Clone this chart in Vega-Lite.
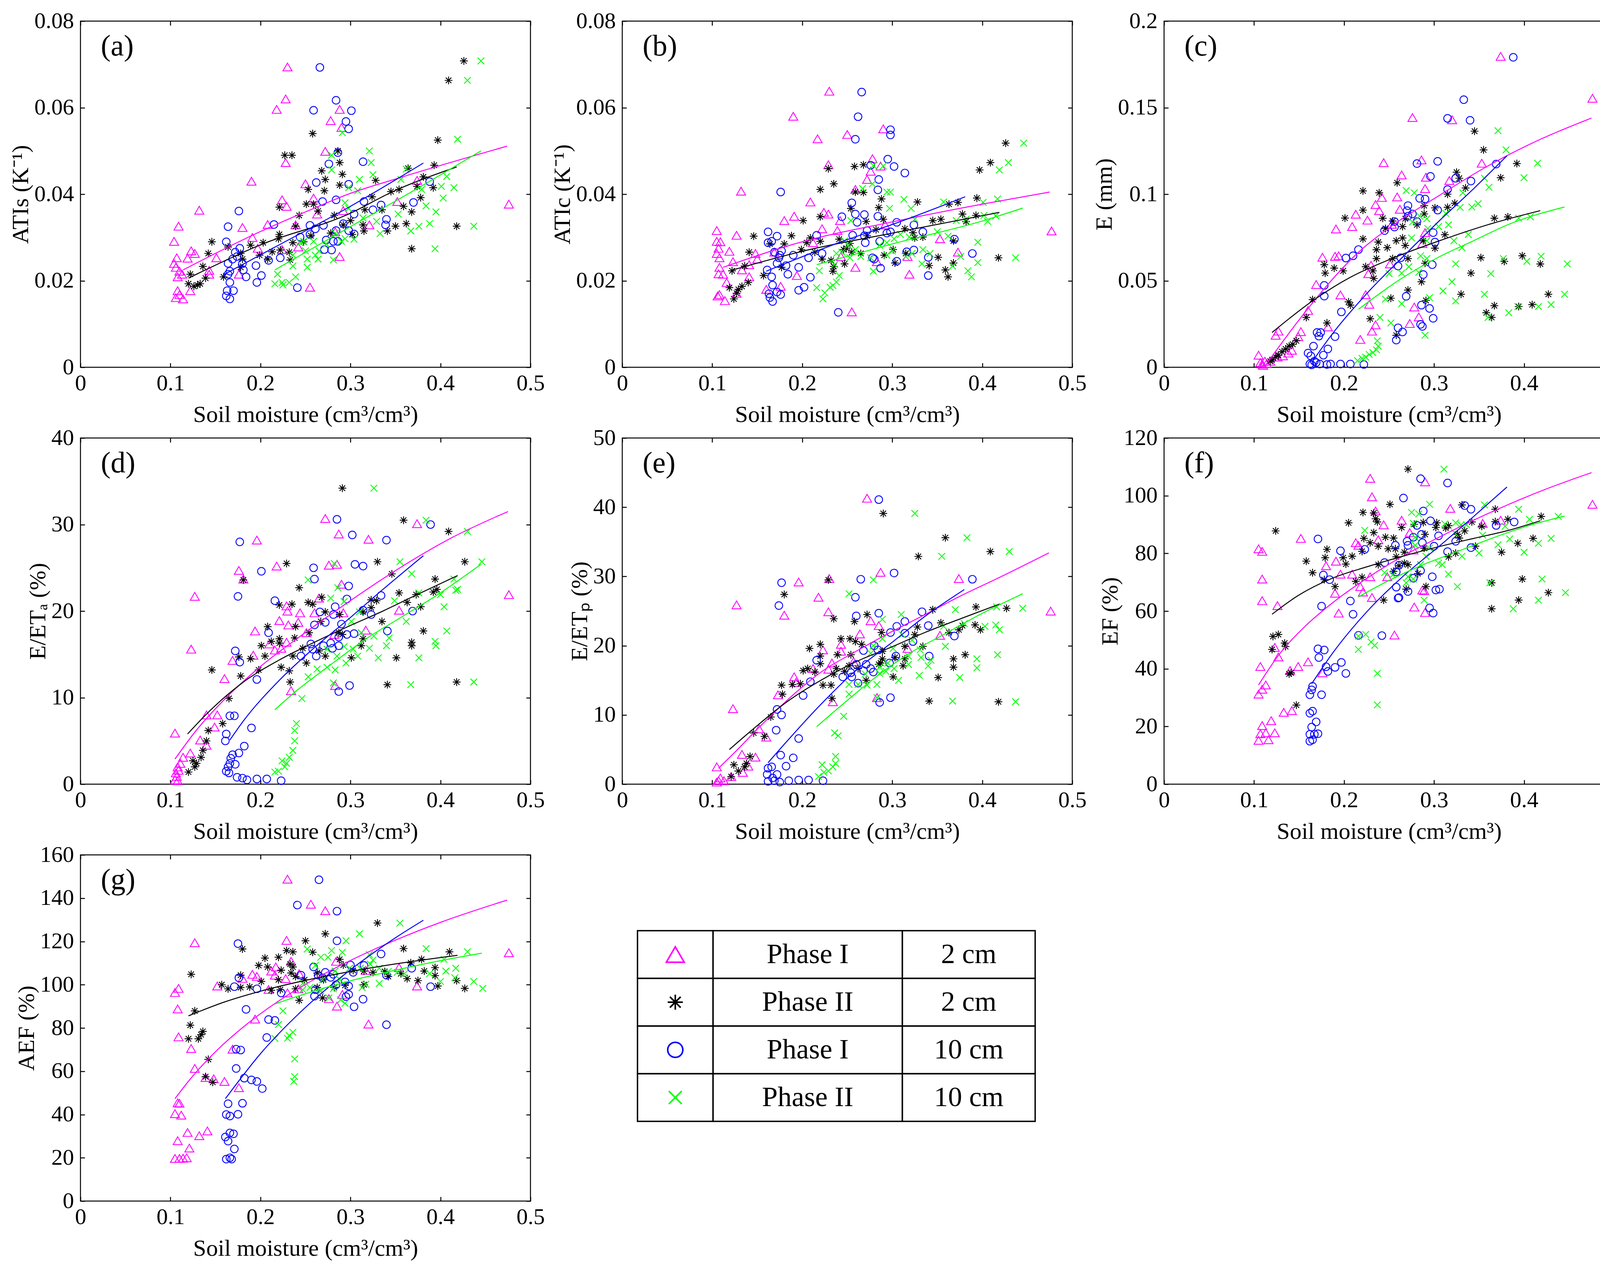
{
"$schema":"https://vega.github.io/schema/vega-lite/v6.json",
"background":"white",
"padding":{"left":22,"top":23,"right":28,"bottom":40},
"config":{
 "font":"Liberation Serif",
 "view":{"stroke":"black","strokeWidth":2.5},
 "range":{"category":["#0000ff","#00ff00","#000000","#ff00ff"],"symbol":["circle","M-1,-1L1,1M-1,1L1,-1","M-1,0L1,0M0,-1L0,1M-0.71,-0.71L0.71,0.71M-0.71,0.71L0.71,-0.71","triangle-up"]},
 "axis":{"grid":false,"domain":false,"tickColor":"black","tickWidth":2.5,"tickSize":-11,"labelColor":"black","labelFont":"Liberation Serif","labelFontSize":58,"titleFont":"Liberation Serif","titleFontSize":60,"titleFontWeight":"normal","titleColor":"black","labelFlush":false,"labelOverlap":false,"labelBound":false},
 "axisX":{"labelPadding":23,"titlePadding":22},
 "axisY":{"labelPadding":28,"titlePadding":3},
 "legend":{"disable":true},
 "title":{"font":"Liberation Serif","fontSize":76,"fontWeight":"normal","anchor":"start","frame":"group","color":"black","baseline":"middle","offset":-69,"dx":52,"dy":64}
},
"datasets":{
"a":[
{"s":"m","x":0.23,"y":0.0694},{"s":"m","x":0.228,"y":0.062},{"s":"m","x":0.218,"y":0.0596},{"s":"m","x":0.288,"y":0.0596},{"s":"m","x":0.278,"y":0.057},{"s":"m","x":0.29,"y":0.0554},{"s":"m","x":0.272,"y":0.0499},{"s":"m","x":0.228,"y":0.0473},{"s":"m","x":0.19,"y":0.043},{"s":"m","x":0.132,"y":0.0363},{"s":"m","x":0.109,"y":0.0326},{"s":"m","x":0.104,"y":0.0291},{"s":"m","x":0.25,"y":0.0424},{"s":"m","x":0.224,"y":0.0387},{"s":"m","x":0.229,"y":0.0372},{"s":"m","x":0.259,"y":0.0391},{"s":"m","x":0.352,"y":0.0383},{"s":"m","x":0.374,"y":0.0432},{"s":"m","x":0.476,"y":0.0377},{"s":"m","x":0.18,"y":0.0323},{"s":"m","x":0.208,"y":0.033},{"s":"m","x":0.239,"y":0.0329},{"s":"m","x":0.263,"y":0.0354},{"s":"m","x":0.292,"y":0.0362},{"s":"m","x":0.191,"y":0.03},{"s":"m","x":0.197,"y":0.0275},{"s":"m","x":0.123,"y":0.0269},{"s":"m","x":0.127,"y":0.0263},{"s":"m","x":0.119,"y":0.0252},{"s":"m","x":0.107,"y":0.0253},{"s":"m","x":0.104,"y":0.024},{"s":"m","x":0.106,"y":0.0231},{"s":"m","x":0.11,"y":0.0222},{"s":"m","x":0.113,"y":0.0215},{"s":"m","x":0.108,"y":0.0209},{"s":"m","x":0.143,"y":0.0215},{"s":"m","x":0.151,"y":0.0253},{"s":"m","x":0.143,"y":0.0224},{"s":"m","x":0.122,"y":0.0177},{"s":"m","x":0.108,"y":0.0177},{"s":"m","x":0.11,"y":0.0168},{"s":"m","x":0.106,"y":0.0161},{"s":"m","x":0.114,"y":0.0158},{"s":"m","x":0.176,"y":0.0215},{"s":"m","x":0.255,"y":0.0185},{"s":"m","x":0.321,"y":0.0329},{"s":"m","x":0.283,"y":0.0313},{"s":"m","x":0.288,"y":0.0256},{"s":"m","x":0.242,"y":0.0278},{"s":"m","x":0.224,"y":0.0272},
{"s":"k","x":0.426,"y":0.0708},{"s":"k","x":0.409,"y":0.0663},{"s":"k","x":0.397,"y":0.0525},{"s":"k","x":0.258,"y":0.054},{"s":"k","x":0.227,"y":0.049},{"s":"k","x":0.235,"y":0.049},{"s":"k","x":0.286,"y":0.05},{"s":"k","x":0.288,"y":0.0473},{"s":"k","x":0.268,"y":0.0454},{"s":"k","x":0.291,"y":0.0446},{"s":"k","x":0.272,"y":0.0434},{"s":"k","x":0.271,"y":0.0408},{"s":"k","x":0.288,"y":0.0421},{"s":"k","x":0.253,"y":0.0411},{"s":"k","x":0.328,"y":0.0432},{"s":"k","x":0.324,"y":0.0394},{"s":"k","x":0.345,"y":0.0406},{"s":"k","x":0.354,"y":0.0411},{"s":"k","x":0.364,"y":0.046},{"s":"k","x":0.381,"y":0.044},{"s":"k","x":0.393,"y":0.0467},{"s":"k","x":0.392,"y":0.0415},{"s":"k","x":0.374,"y":0.0418},{"s":"k","x":0.378,"y":0.0392},{"s":"k","x":0.359,"y":0.0372},{"s":"k","x":0.368,"y":0.0359},{"s":"k","x":0.362,"y":0.0332},{"s":"k","x":0.35,"y":0.0326},{"s":"k","x":0.341,"y":0.0315},{"s":"k","x":0.418,"y":0.0326},{"s":"k","x":0.368,"y":0.0274},{"s":"k","x":0.335,"y":0.0364},{"s":"k","x":0.316,"y":0.0364},{"s":"k","x":0.314,"y":0.0329},{"s":"k","x":0.315,"y":0.0315},{"s":"k","x":0.302,"y":0.0307},{"s":"k","x":0.3,"y":0.0339},{"s":"k","x":0.292,"y":0.0329},{"s":"k","x":0.282,"y":0.0351},{"s":"k","x":0.264,"y":0.0361},{"s":"k","x":0.259,"y":0.0377},{"s":"k","x":0.251,"y":0.0377},{"s":"k","x":0.243,"y":0.0351},{"s":"k","x":0.239,"y":0.0326},{"s":"k","x":0.221,"y":0.037},{"s":"k","x":0.221,"y":0.0307},{"s":"k","x":0.22,"y":0.0297},{"s":"k","x":0.222,"y":0.0271},{"s":"k","x":0.232,"y":0.0266},{"s":"k","x":0.233,"y":0.0248},{"s":"k","x":0.213,"y":0.0267},{"s":"k","x":0.208,"y":0.025},{"s":"k","x":0.203,"y":0.0288},{"s":"k","x":0.199,"y":0.0259},{"s":"k","x":0.189,"y":0.0282},{"s":"k","x":0.178,"y":0.0263},{"s":"k","x":0.18,"y":0.025},{"s":"k","x":0.178,"y":0.0231},{"s":"k","x":0.164,"y":0.0278},{"s":"k","x":0.159,"y":0.0209},{"s":"k","x":0.146,"y":0.029},{"s":"k","x":0.142,"y":0.0263},{"s":"k","x":0.136,"y":0.0233},{"s":"k","x":0.139,"y":0.0206},{"s":"k","x":0.122,"y":0.0215},{"s":"k","x":0.12,"y":0.0193},{"s":"k","x":0.126,"y":0.0187},{"s":"k","x":0.13,"y":0.019},{"s":"k","x":0.133,"y":0.0193},{"s":"k","x":0.236,"y":0.0288},{"s":"k","x":0.248,"y":0.029},{"s":"k","x":0.256,"y":0.0304},{"s":"k","x":0.278,"y":0.031},
{"s":"b","x":0.266,"y":0.0693},{"s":"b","x":0.284,"y":0.0617},{"s":"b","x":0.259,"y":0.0594},{"s":"b","x":0.301,"y":0.0593},{"s":"b","x":0.295,"y":0.0568},{"s":"b","x":0.298,"y":0.0551},{"s":"b","x":0.286,"y":0.0496},{"s":"b","x":0.276,"y":0.047},{"s":"b","x":0.314,"y":0.0475},{"s":"b","x":0.262,"y":0.0427},{"s":"b","x":0.298,"y":0.0423},{"s":"b","x":0.388,"y":0.0429},{"s":"b","x":0.269,"y":0.0383},{"s":"b","x":0.284,"y":0.0387},{"s":"b","x":0.315,"y":0.0383},{"s":"b","x":0.334,"y":0.0375},{"s":"b","x":0.37,"y":0.0381},{"s":"b","x":0.325,"y":0.0364},{"s":"b","x":0.304,"y":0.0354},{"s":"b","x":0.34,"y":0.0342},{"s":"b","x":0.339,"y":0.0329},{"s":"b","x":0.176,"y":0.0361},{"s":"b","x":0.164,"y":0.0325},{"s":"b","x":0.162,"y":0.029},{"s":"b","x":0.215,"y":0.033},{"s":"b","x":0.255,"y":0.0328},{"s":"b","x":0.27,"y":0.0328},{"s":"b","x":0.261,"y":0.032},{"s":"b","x":0.244,"y":0.0301},{"s":"b","x":0.255,"y":0.0307},{"s":"b","x":0.284,"y":0.0316},{"s":"b","x":0.292,"y":0.0332},{"s":"b","x":0.298,"y":0.0316},{"s":"b","x":0.304,"y":0.0308},{"s":"b","x":0.286,"y":0.0291},{"s":"b","x":0.281,"y":0.0291},{"s":"b","x":0.271,"y":0.0272},{"s":"b","x":0.279,"y":0.0271},{"s":"b","x":0.273,"y":0.0294},{"s":"b","x":0.177,"y":0.0275},{"s":"b","x":0.172,"y":0.0266},{"s":"b","x":0.174,"y":0.0256},{"s":"b","x":0.169,"y":0.025},{"s":"b","x":0.18,"y":0.024},{"s":"b","x":0.181,"y":0.0225},{"s":"b","x":0.184,"y":0.0209},{"s":"b","x":0.195,"y":0.0235},{"s":"b","x":0.201,"y":0.0212},{"s":"b","x":0.196,"y":0.0196},{"s":"b","x":0.209,"y":0.0247},{"s":"b","x":0.222,"y":0.0253},{"s":"b","x":0.166,"y":0.0222},{"s":"b","x":0.164,"y":0.0215},{"s":"b","x":0.166,"y":0.0196},{"s":"b","x":0.163,"y":0.0177},{"s":"b","x":0.17,"y":0.0177},{"s":"b","x":0.162,"y":0.0165},{"s":"b","x":0.166,"y":0.0158},{"s":"b","x":0.241,"y":0.0184},{"s":"b","x":0.164,"y":0.024},
{"s":"g","x":0.445,"y":0.0708},{"s":"g","x":0.43,"y":0.0663},{"s":"g","x":0.419,"y":0.0527},{"s":"g","x":0.321,"y":0.05},{"s":"g","x":0.323,"y":0.0473},{"s":"g","x":0.291,"y":0.0542},{"s":"g","x":0.279,"y":0.049},{"s":"g","x":0.279,"y":0.0456},{"s":"g","x":0.31,"y":0.0434},{"s":"g","x":0.325,"y":0.0445},{"s":"g","x":0.308,"y":0.0408},{"s":"g","x":0.298,"y":0.0415},{"s":"g","x":0.356,"y":0.0434},{"s":"g","x":0.362,"y":0.0458},{"s":"g","x":0.379,"y":0.0411},{"s":"g","x":0.407,"y":0.0441},{"s":"g","x":0.401,"y":0.0418},{"s":"g","x":0.415,"y":0.0415},{"s":"g","x":0.403,"y":0.0391},{"s":"g","x":0.384,"y":0.0373},{"s":"g","x":0.395,"y":0.0359},{"s":"g","x":0.353,"y":0.0354},{"s":"g","x":0.367,"y":0.0315},{"s":"g","x":0.376,"y":0.0326},{"s":"g","x":0.388,"y":0.0332},{"s":"g","x":0.437,"y":0.0326},{"s":"g","x":0.394,"y":0.0274},{"s":"g","x":0.333,"y":0.0309},{"s":"g","x":0.329,"y":0.0337},{"s":"g","x":0.314,"y":0.0345},{"s":"g","x":0.298,"y":0.0367},{"s":"g","x":0.294,"y":0.038},{"s":"g","x":0.304,"y":0.0296},{"s":"g","x":0.294,"y":0.0297},{"s":"g","x":0.29,"y":0.0291},{"s":"g","x":0.283,"y":0.031},{"s":"g","x":0.273,"y":0.0285},{"s":"g","x":0.265,"y":0.0269},{"s":"g","x":0.261,"y":0.0259},{"s":"g","x":0.264,"y":0.025},{"s":"g","x":0.281,"y":0.0248},{"s":"g","x":0.252,"y":0.025},{"s":"g","x":0.252,"y":0.0231},{"s":"g","x":0.25,"y":0.0269},{"s":"g","x":0.244,"y":0.0288},{"s":"g","x":0.236,"y":0.0259},{"s":"g","x":0.236,"y":0.0234},{"s":"g","x":0.239,"y":0.0209},{"s":"g","x":0.232,"y":0.0196},{"s":"g","x":0.225,"y":0.019},{"s":"g","x":0.224,"y":0.0196},{"s":"g","x":0.219,"y":0.0215},{"s":"g","x":0.216,"y":0.0193},{"s":"g","x":0.248,"y":0.0291},{"s":"g","x":0.259,"y":0.0291}
],
"fa":[
{"s":"m","x":0.114,"y":0.0225},{"s":"m","x":0.19,"y":0.0304},{"s":"m","x":0.259,"y":0.0367},{"s":"m","x":0.3,"y":0.0402},{"s":"m","x":0.35,"y":0.0435},{"s":"m","x":0.474,"y":0.0511},
{"s":"k","x":0.12,"y":0.0206},{"s":"k","x":0.2,"y":0.0283},{"s":"k","x":0.3,"y":0.0356},{"s":"k","x":0.345,"y":0.0404},{"s":"k","x":0.418,"y":0.0463},
{"s":"b","x":0.16,"y":0.0215},{"s":"b","x":0.22,"y":0.0282},{"s":"b","x":0.3,"y":0.0372},{"s":"b","x":0.381,"y":0.0472},
{"s":"g","x":0.216,"y":0.0225},{"s":"g","x":0.3,"y":0.0325},{"s":"g","x":0.38,"y":0.042},{"s":"g","x":0.445,"y":0.05}
],
"b":[
{"s":"m","x":0.23,"y":0.0638},{"s":"m","x":0.19,"y":0.058},{"s":"m","x":0.29,"y":0.0551},{"s":"m","x":0.25,"y":0.0538},{"s":"m","x":0.217,"y":0.0528},{"s":"m","x":0.229,"y":0.0468},{"s":"m","x":0.278,"y":0.0482},{"s":"m","x":0.276,"y":0.0453},{"s":"m","x":0.272,"y":0.0434},{"s":"m","x":0.287,"y":0.0465},{"s":"m","x":0.132,"y":0.0407},{"s":"m","x":0.209,"y":0.0382},{"s":"m","x":0.259,"y":0.0411},{"s":"m","x":0.191,"y":0.0349},{"s":"m","x":0.18,"y":0.0339},{"s":"m","x":0.229,"y":0.0354},{"s":"m","x":0.224,"y":0.0358},{"s":"m","x":0.242,"y":0.0339},{"s":"m","x":0.222,"y":0.032},{"s":"m","x":0.239,"y":0.0316},{"s":"m","x":0.477,"y":0.0315},{"s":"m","x":0.292,"y":0.0329},{"s":"m","x":0.105,"y":0.0316},{"s":"m","x":0.127,"y":0.0305},{"s":"m","x":0.105,"y":0.0291},{"s":"m","x":0.109,"y":0.029},{"s":"m","x":0.107,"y":0.0275},{"s":"m","x":0.119,"y":0.0268},{"s":"m","x":0.105,"y":0.0263},{"s":"m","x":0.108,"y":0.0253},{"s":"m","x":0.123,"y":0.0244},{"s":"m","x":0.148,"y":0.0263},{"s":"m","x":0.15,"y":0.025},{"s":"m","x":0.141,"y":0.0237},{"s":"m","x":0.133,"y":0.0225},{"s":"m","x":0.108,"y":0.0231},{"s":"m","x":0.112,"y":0.0215},{"s":"m","x":0.107,"y":0.0216},{"s":"m","x":0.116,"y":0.0196},{"s":"m","x":0.141,"y":0.0209},{"s":"m","x":0.127,"y":0.0171},{"s":"m","x":0.108,"y":0.0168},{"s":"m","x":0.106,"y":0.0165},{"s":"m","x":0.114,"y":0.0154},{"s":"m","x":0.16,"y":0.018},{"s":"m","x":0.176,"y":0.0187},{"s":"m","x":0.194,"y":0.0212},{"s":"m","x":0.255,"y":0.0128},{"s":"m","x":0.259,"y":0.0231},{"s":"m","x":0.319,"y":0.0215},{"s":"m","x":0.373,"y":0.0266},{"s":"m","x":0.353,"y":0.0297},{"s":"m","x":0.317,"y":0.0256},{"s":"m","x":0.283,"y":0.0244},{"s":"m","x":0.212,"y":0.0288},{"s":"m","x":0.243,"y":0.0256},{"s":"m","x":0.169,"y":0.0266},
{"s":"k","x":0.426,"y":0.0518},{"s":"k","x":0.409,"y":0.0473},{"s":"k","x":0.397,"y":0.0456},{"s":"k","x":0.229,"y":0.0459},{"s":"k","x":0.258,"y":0.0464},{"s":"k","x":0.268,"y":0.0468},{"s":"k","x":0.235,"y":0.0424},{"s":"k","x":0.22,"y":0.0411},{"s":"k","x":0.259,"y":0.0405},{"s":"k","x":0.268,"y":0.0404},{"s":"k","x":0.288,"y":0.0389},{"s":"k","x":0.328,"y":0.0382},{"s":"k","x":0.394,"y":0.0391},{"s":"k","x":0.373,"y":0.0381},{"s":"k","x":0.363,"y":0.0377},{"s":"k","x":0.285,"y":0.0369},{"s":"k","x":0.254,"y":0.0367},{"s":"k","x":0.22,"y":0.0348},{"s":"k","x":0.29,"y":0.0342},{"s":"k","x":0.201,"y":0.0339},{"s":"k","x":0.271,"y":0.0337},{"s":"k","x":0.378,"y":0.0354},{"s":"k","x":0.393,"y":0.0351},{"s":"k","x":0.382,"y":0.0337},{"s":"k","x":0.345,"y":0.0339},{"s":"k","x":0.354,"y":0.0342},{"s":"k","x":0.314,"y":0.032},{"s":"k","x":0.323,"y":0.0311},{"s":"k","x":0.334,"y":0.0301},{"s":"k","x":0.325,"y":0.0299},{"s":"k","x":0.368,"y":0.0292},{"s":"k","x":0.146,"y":0.0303},{"s":"k","x":0.188,"y":0.0304},{"s":"k","x":0.209,"y":0.0299},{"s":"k","x":0.22,"y":0.0291},{"s":"k","x":0.205,"y":0.0288},{"s":"k","x":0.164,"y":0.0285},{"s":"k","x":0.18,"y":0.0285},{"s":"k","x":0.241,"y":0.0296},{"s":"k","x":0.253,"y":0.0286},{"s":"k","x":0.272,"y":0.0304},{"s":"k","x":0.282,"y":0.0318},{"s":"k","x":0.249,"y":0.0275},{"s":"k","x":0.246,"y":0.0272},{"s":"k","x":0.199,"y":0.0272},{"s":"k","x":0.214,"y":0.0266},{"s":"k","x":0.255,"y":0.0266},{"s":"k","x":0.265,"y":0.0263},{"s":"k","x":0.301,"y":0.0272},{"s":"k","x":0.291,"y":0.0259},{"s":"k","x":0.315,"y":0.0263},{"s":"k","x":0.351,"y":0.0254},{"s":"k","x":0.222,"y":0.025},{"s":"k","x":0.232,"y":0.0247},{"s":"k","x":0.247,"y":0.0239},{"s":"k","x":0.303,"y":0.0241},{"s":"k","x":0.418,"y":0.0253},{"s":"k","x":0.341,"y":0.0235},{"s":"k","x":0.368,"y":0.0241},{"s":"k","x":0.359,"y":0.0225},{"s":"k","x":0.362,"y":0.0209},{"s":"k","x":0.234,"y":0.0222},{"s":"k","x":0.235,"y":0.0233},{"s":"k","x":0.177,"y":0.0231},{"s":"k","x":0.157,"y":0.0212},{"s":"k","x":0.141,"y":0.0266},{"s":"k","x":0.136,"y":0.0234},{"s":"k","x":0.122,"y":0.0223},{"s":"k","x":0.14,"y":0.0196},{"s":"k","x":0.133,"y":0.0187},{"s":"k","x":0.129,"y":0.018},{"s":"k","x":0.119,"y":0.0184},{"s":"k","x":0.127,"y":0.0171},{"s":"k","x":0.124,"y":0.0158},
{"s":"b","x":0.266,"y":0.0636},{"s":"b","x":0.262,"y":0.0579},{"s":"b","x":0.259,"y":0.0527},{"s":"b","x":0.298,"y":0.0549},{"s":"b","x":0.298,"y":0.0537},{"s":"b","x":0.295,"y":0.0481},{"s":"b","x":0.302,"y":0.0464},{"s":"b","x":0.314,"y":0.0449},{"s":"b","x":0.276,"y":0.0467},{"s":"b","x":0.285,"y":0.0434},{"s":"b","x":0.284,"y":0.041},{"s":"b","x":0.176,"y":0.0405},{"s":"b","x":0.255,"y":0.038},{"s":"b","x":0.259,"y":0.0354},{"s":"b","x":0.269,"y":0.0353},{"s":"b","x":0.244,"y":0.0348},{"s":"b","x":0.284,"y":0.0349},{"s":"b","x":0.305,"y":0.0335},{"s":"b","x":0.261,"y":0.0335},{"s":"b","x":0.324,"y":0.0329},{"s":"b","x":0.334,"y":0.0313},{"s":"b","x":0.369,"y":0.0296},{"s":"b","x":0.294,"y":0.031},{"s":"b","x":0.298,"y":0.0313},{"s":"b","x":0.272,"y":0.0316},{"s":"b","x":0.269,"y":0.0304},{"s":"b","x":0.256,"y":0.0305},{"s":"b","x":0.27,"y":0.0288},{"s":"b","x":0.286,"y":0.0291},{"s":"b","x":0.324,"y":0.0271},{"s":"b","x":0.316,"y":0.0267},{"s":"b","x":0.34,"y":0.0254},{"s":"b","x":0.389,"y":0.0263},{"s":"b","x":0.278,"y":0.0253},{"s":"b","x":0.28,"y":0.025},{"s":"b","x":0.287,"y":0.0229},{"s":"b","x":0.305,"y":0.0245},{"s":"b","x":0.34,"y":0.0212},{"s":"b","x":0.24,"y":0.0127},{"s":"b","x":0.162,"y":0.0313},{"s":"b","x":0.172,"y":0.0303},{"s":"b","x":0.162,"y":0.0288},{"s":"b","x":0.166,"y":0.0291},{"s":"b","x":0.216,"y":0.0305},{"s":"b","x":0.19,"y":0.0259},{"s":"b","x":0.207,"y":0.0253},{"s":"b","x":0.222,"y":0.0263},{"s":"b","x":0.169,"y":0.0266},{"s":"b","x":0.177,"y":0.0269},{"s":"b","x":0.175,"y":0.0259},{"s":"b","x":0.174,"y":0.0253},{"s":"b","x":0.172,"y":0.024},{"s":"b","x":0.182,"y":0.0235},{"s":"b","x":0.161,"y":0.0225},{"s":"b","x":0.184,"y":0.0215},{"s":"b","x":0.196,"y":0.0231},{"s":"b","x":0.209,"y":0.0208},{"s":"b","x":0.166,"y":0.0209},{"s":"b","x":0.167,"y":0.019},{"s":"b","x":0.202,"y":0.0185},{"s":"b","x":0.196,"y":0.0178},{"s":"b","x":0.172,"y":0.0174},{"s":"b","x":0.163,"y":0.017},{"s":"b","x":0.176,"y":0.0168},{"s":"b","x":0.164,"y":0.0161},{"s":"b","x":0.167,"y":0.0152},
{"s":"g","x":0.446,"y":0.0518},{"s":"g","x":0.429,"y":0.0473},{"s":"g","x":0.419,"y":0.0456},{"s":"g","x":0.279,"y":0.0466},{"s":"g","x":0.29,"y":0.0465},{"s":"g","x":0.278,"y":0.0424},{"s":"g","x":0.267,"y":0.0413},{"s":"g","x":0.294,"y":0.0405},{"s":"g","x":0.298,"y":0.0405},{"s":"g","x":0.297,"y":0.0367},{"s":"g","x":0.313,"y":0.0388},{"s":"g","x":0.321,"y":0.0367},{"s":"g","x":0.357,"y":0.0382},{"s":"g","x":0.401,"y":0.0381},{"s":"g","x":0.417,"y":0.0389},{"s":"g","x":0.402,"y":0.0351},{"s":"g","x":0.406,"y":0.0337},{"s":"g","x":0.415,"y":0.035},{"s":"g","x":0.371,"y":0.0339},{"s":"g","x":0.382,"y":0.0342},{"s":"g","x":0.395,"y":0.0289},{"s":"g","x":0.362,"y":0.0303},{"s":"g","x":0.35,"y":0.0313},{"s":"g","x":0.325,"y":0.0342},{"s":"g","x":0.319,"y":0.0301},{"s":"g","x":0.309,"y":0.0307},{"s":"g","x":0.302,"y":0.0297},{"s":"g","x":0.294,"y":0.0288},{"s":"g","x":0.286,"y":0.0282},{"s":"g","x":0.334,"y":0.0272},{"s":"g","x":0.342,"y":0.0263},{"s":"g","x":0.322,"y":0.0263},{"s":"g","x":0.315,"y":0.0256},{"s":"g","x":0.3,"y":0.0269},{"s":"g","x":0.294,"y":0.0259},{"s":"g","x":0.333,"y":0.0239},{"s":"g","x":0.367,"y":0.0234},{"s":"g","x":0.376,"y":0.0256},{"s":"g","x":0.384,"y":0.0223},{"s":"g","x":0.388,"y":0.0209},{"s":"g","x":0.395,"y":0.0242},{"s":"g","x":0.437,"y":0.0253},{"s":"g","x":0.279,"y":0.0222},{"s":"g","x":0.276,"y":0.0253},{"s":"g","x":0.265,"y":0.0256},{"s":"g","x":0.259,"y":0.0272},{"s":"g","x":0.251,"y":0.0282},{"s":"g","x":0.254,"y":0.0339},{"s":"g","x":0.247,"y":0.0292},{"s":"g","x":0.244,"y":0.0266},{"s":"g","x":0.238,"y":0.0263},{"s":"g","x":0.236,"y":0.0237},{"s":"g","x":0.241,"y":0.0212},{"s":"g","x":0.238,"y":0.0197},{"s":"g","x":0.234,"y":0.0189},{"s":"g","x":0.231,"y":0.0185},{"s":"g","x":0.225,"y":0.0172},{"s":"g","x":0.223,"y":0.0158},{"s":"g","x":0.216,"y":0.0184},{"s":"g","x":0.219,"y":0.0223},{"s":"g","x":0.253,"y":0.0253}
],
"fb":[
{"s":"m","x":0.112,"y":0.0231},{"s":"m","x":0.2,"y":0.029},{"s":"m","x":0.3,"y":0.0336},{"s":"m","x":0.4,"y":0.0377},{"s":"m","x":0.475,"y":0.0405},
{"s":"k","x":0.123,"y":0.0225},{"s":"k","x":0.2,"y":0.0268},{"s":"k","x":0.3,"y":0.031},{"s":"k","x":0.419,"y":0.0358},
{"s":"b","x":0.16,"y":0.0222},{"s":"b","x":0.25,"y":0.0295},{"s":"b","x":0.3,"y":0.033},{"s":"b","x":0.381,"y":0.0394},
{"s":"g","x":0.216,"y":0.0237},{"s":"g","x":0.3,"y":0.0285},{"s":"g","x":0.4,"y":0.0338},{"s":"g","x":0.445,"y":0.0368}
],
"c":[
{"s":"m","x":0.374,"y":0.1796},{"s":"m","x":0.476,"y":0.1554},{"s":"m","x":0.276,"y":0.1443},{"s":"m","x":0.32,"y":0.143},{"s":"m","x":0.244,"y":0.1182},{"s":"m","x":0.286,"y":0.1198},{"s":"m","x":0.353,"y":0.1179},{"s":"m","x":0.291,"y":0.1098},{"s":"m","x":0.264,"y":0.1111},{"s":"m","x":0.317,"y":0.1079},{"s":"m","x":0.29,"y":0.1032},{"s":"m","x":0.259,"y":0.0984},{"s":"m","x":0.242,"y":0.0981},{"s":"m","x":0.235,"y":0.094},{"s":"m","x":0.239,"y":0.0905},{"s":"m","x":0.262,"y":0.0913},{"s":"m","x":0.213,"y":0.0884},{"s":"m","x":0.226,"y":0.085},{"s":"m","x":0.209,"y":0.0813},{"s":"m","x":0.191,"y":0.0799},{"s":"m","x":0.253,"y":0.0826},{"s":"m","x":0.29,"y":0.0778},{"s":"m","x":0.287,"y":0.0715},{"s":"m","x":0.176,"y":0.0636},{"s":"m","x":0.19,"y":0.0641},{"s":"m","x":0.194,"y":0.0644},{"s":"m","x":0.23,"y":0.0589},{"s":"m","x":0.227,"y":0.0541},{"s":"m","x":0.251,"y":0.0597},{"s":"m","x":0.169,"y":0.0478},{"s":"m","x":0.196,"y":0.0418},{"s":"m","x":0.224,"y":0.0419},{"s":"m","x":0.228,"y":0.0364},{"s":"m","x":0.16,"y":0.0328},{"s":"m","x":0.278,"y":0.0348},{"s":"m","x":0.235,"y":0.0245},{"s":"m","x":0.283,"y":0.0291},{"s":"m","x":0.273,"y":0.0253},{"s":"m","x":0.231,"y":0.0209},{"s":"m","x":0.218,"y":0.0161},{"s":"m","x":0.182,"y":0.0233},{"s":"m","x":0.152,"y":0.0206},{"s":"m","x":0.149,"y":0.0177},{"s":"m","x":0.127,"y":0.0209},{"s":"m","x":0.124,"y":0.0185},{"s":"m","x":0.105,"y":0.007},{"s":"m","x":0.107,"y":0.0027},{"s":"m","x":0.109,"y":0.0019},{"s":"m","x":0.112,"y":0.0035},{"s":"m","x":0.114,"y":0.0022},{"s":"m","x":0.11,"y":0.0011},{"s":"m","x":0.118,"y":0.0035},{"s":"m","x":0.126,"y":0.0059},{"s":"m","x":0.132,"y":0.0066},{"s":"m","x":0.138,"y":0.0082},{"s":"m","x":0.142,"y":0.0098},
{"s":"k","x":0.345,"y":0.1364},{"s":"k","x":0.355,"y":0.1256},{"s":"k","x":0.392,"y":0.1177},{"s":"k","x":0.374,"y":0.1095},{"s":"k","x":0.325,"y":0.1127},{"s":"k","x":0.328,"y":0.1092},{"s":"k","x":0.335,"y":0.1036},{"s":"k","x":0.315,"y":0.1},{"s":"k","x":0.259,"y":0.1066},{"s":"k","x":0.221,"y":0.1019},{"s":"k","x":0.239,"y":0.1008},{"s":"k","x":0.221,"y":0.0908},{"s":"k","x":0.289,"y":0.0934},{"s":"k","x":0.301,"y":0.0921},{"s":"k","x":0.315,"y":0.0924},{"s":"k","x":0.323,"y":0.0948},{"s":"k","x":0.201,"y":0.0862},{"s":"k","x":0.243,"y":0.0861},{"s":"k","x":0.254,"y":0.0845},{"s":"k","x":0.265,"y":0.0813},{"s":"k","x":0.268,"y":0.0858},{"s":"k","x":0.281,"y":0.0823},{"s":"k","x":0.289,"y":0.0886},{"s":"k","x":0.246,"y":0.0802},{"s":"k","x":0.367,"y":0.0861},{"s":"k","x":0.382,"y":0.0869},{"s":"k","x":0.312,"y":0.0766},{"s":"k","x":0.221,"y":0.0742},{"s":"k","x":0.238,"y":0.0723},{"s":"k","x":0.248,"y":0.0691},{"s":"k","x":0.258,"y":0.0731},{"s":"k","x":0.265,"y":0.0747},{"s":"k","x":0.268,"y":0.0704},{"s":"k","x":0.288,"y":0.0731},{"s":"k","x":0.301,"y":0.0688},{"s":"k","x":0.236,"y":0.0679},{"s":"k","x":0.236,"y":0.0628},{"s":"k","x":0.271,"y":0.0628},{"s":"k","x":0.178,"y":0.0593},{"s":"k","x":0.179,"y":0.0544},{"s":"k","x":0.189,"y":0.0573},{"s":"k","x":0.199,"y":0.0557},{"s":"k","x":0.224,"y":0.0581},{"s":"k","x":0.232,"y":0.0557},{"s":"k","x":0.233,"y":0.0513},{"s":"k","x":0.254,"y":0.0628},{"s":"k","x":0.29,"y":0.0601},{"s":"k","x":0.352,"y":0.0633},{"s":"k","x":0.378,"y":0.0612},{"s":"k","x":0.398,"y":0.0644},{"s":"k","x":0.418,"y":0.0597},{"s":"k","x":0.341,"y":0.0544},{"s":"k","x":0.286,"y":0.0494},{"s":"k","x":0.271,"y":0.0446},{"s":"k","x":0.165,"y":0.0391},{"s":"k","x":0.205,"y":0.0378},{"s":"k","x":0.207,"y":0.0359},{"s":"k","x":0.252,"y":0.0399},{"s":"k","x":0.291,"y":0.0386},{"s":"k","x":0.33,"y":0.0422},{"s":"k","x":0.427,"y":0.0422},{"s":"k","x":0.358,"y":0.0315},{"s":"k","x":0.367,"y":0.0356},{"s":"k","x":0.364,"y":0.0288},{"s":"k","x":0.394,"y":0.0351},{"s":"k","x":0.409,"y":0.0362},{"s":"k","x":0.158,"y":0.0288},{"s":"k","x":0.181,"y":0.0256},{"s":"k","x":0.229,"y":0.028},{"s":"k","x":0.258,"y":0.0185},{"s":"k","x":0.147,"y":0.0153},{"s":"k","x":0.143,"y":0.0133},{"s":"k","x":0.139,"y":0.0122},{"s":"k","x":0.135,"y":0.0106},{"s":"k","x":0.131,"y":0.009},{"s":"k","x":0.127,"y":0.007},{"s":"k","x":0.124,"y":0.0059},{"s":"k","x":0.12,"y":0.0043},{"s":"k","x":0.118,"y":0.0035},
{"s":"b","x":0.388,"y":0.1791},{"s":"b","x":0.333,"y":0.1546},{"s":"b","x":0.315,"y":0.1438},{"s":"b","x":0.34,"y":0.1427},{"s":"b","x":0.281,"y":0.1177},{"s":"b","x":0.304,"y":0.119},{"s":"b","x":0.369,"y":0.1174},{"s":"b","x":0.296,"y":0.1103},{"s":"b","x":0.324,"y":0.1092},{"s":"b","x":0.341,"y":0.1076},{"s":"b","x":0.315,"y":0.1027},{"s":"b","x":0.284,"y":0.0976},{"s":"b","x":0.29,"y":0.0972},{"s":"b","x":0.271,"y":0.0934},{"s":"b","x":0.304,"y":0.0908},{"s":"b","x":0.27,"y":0.0905},{"s":"b","x":0.271,"y":0.0873},{"s":"b","x":0.276,"y":0.0886},{"s":"b","x":0.256,"y":0.0842},{"s":"b","x":0.256,"y":0.081},{"s":"b","x":0.245,"y":0.079},{"s":"b","x":0.281,"y":0.0842},{"s":"b","x":0.299,"y":0.0778},{"s":"b","x":0.301,"y":0.0723},{"s":"b","x":0.216,"y":0.068},{"s":"b","x":0.21,"y":0.0644},{"s":"b","x":0.202,"y":0.0631},{"s":"b","x":0.263,"y":0.0633},{"s":"b","x":0.26,"y":0.0585},{"s":"b","x":0.298,"y":0.0593},{"s":"b","x":0.288,"y":0.0536},{"s":"b","x":0.178,"y":0.0473},{"s":"b","x":0.178,"y":0.0411},{"s":"b","x":0.269,"y":0.041},{"s":"b","x":0.197,"y":0.032},{"s":"b","x":0.286,"y":0.0359},{"s":"b","x":0.295,"y":0.034},{"s":"b","x":0.299,"y":0.0283},{"s":"b","x":0.285,"y":0.0248},{"s":"b","x":0.287,"y":0.0236},{"s":"b","x":0.26,"y":0.0228},{"s":"b","x":0.265,"y":0.0204},{"s":"b","x":0.258,"y":0.0157},{"s":"b","x":0.19,"y":0.0177},{"s":"b","x":0.17,"y":0.0201},{"s":"b","x":0.174,"y":0.0201},{"s":"b","x":0.172,"y":0.018},{"s":"b","x":0.166,"y":0.0122},{"s":"b","x":0.182,"y":0.0106},{"s":"b","x":0.16,"y":0.0082},{"s":"b","x":0.163,"y":0.0066},{"s":"b","x":0.177,"y":0.007},{"s":"b","x":0.167,"y":0.0035},{"s":"b","x":0.162,"y":0.0019},{"s":"b","x":0.164,"y":0.0014},{"s":"b","x":0.169,"y":0.0027},{"s":"b","x":0.173,"y":0.0019},{"s":"b","x":0.181,"y":0.0016},{"s":"b","x":0.185,"y":0.0019},{"s":"b","x":0.196,"y":0.0019},{"s":"b","x":0.207,"y":0.0019},{"s":"b","x":0.222,"y":0.0016},
{"s":"g","x":0.371,"y":0.1367},{"s":"g","x":0.38,"y":0.1256},{"s":"g","x":0.415,"y":0.1179},{"s":"g","x":0.4,"y":0.1095},{"s":"g","x":0.356,"y":0.1092},{"s":"g","x":0.361,"y":0.104},{"s":"g","x":0.332,"y":0.1008},{"s":"g","x":0.329,"y":0.0924},{"s":"g","x":0.342,"y":0.0926},{"s":"g","x":0.349,"y":0.0945},{"s":"g","x":0.313,"y":0.0889},{"s":"g","x":0.316,"y":0.0823},{"s":"g","x":0.305,"y":0.0813},{"s":"g","x":0.269,"y":0.1021},{"s":"g","x":0.278,"y":0.1008},{"s":"g","x":0.292,"y":0.0858},{"s":"g","x":0.284,"y":0.0873},{"s":"g","x":0.276,"y":0.0839},{"s":"g","x":0.293,"y":0.0802},{"s":"g","x":0.275,"y":0.0747},{"s":"g","x":0.292,"y":0.0731},{"s":"g","x":0.338,"y":0.0767},{"s":"g","x":0.322,"y":0.0731},{"s":"g","x":0.394,"y":0.0861},{"s":"g","x":0.407,"y":0.0869},{"s":"g","x":0.331,"y":0.0691},{"s":"g","x":0.324,"y":0.0597},{"s":"g","x":0.377,"y":0.0628},{"s":"g","x":0.403,"y":0.0612},{"s":"g","x":0.419,"y":0.0641},{"s":"g","x":0.448,"y":0.0597},{"s":"g","x":0.363,"y":0.0541},{"s":"g","x":0.32,"y":0.0494},{"s":"g","x":0.31,"y":0.0441},{"s":"g","x":0.324,"y":0.0383},{"s":"g","x":0.356,"y":0.0422},{"s":"g","x":0.445,"y":0.0422},{"s":"g","x":0.393,"y":0.0351},{"s":"g","x":0.416,"y":0.0351},{"s":"g","x":0.43,"y":0.0362},{"s":"g","x":0.383,"y":0.0315},{"s":"g","x":0.36,"y":0.0288},{"s":"g","x":0.285,"y":0.0644},{"s":"g","x":0.272,"y":0.0581},{"s":"g","x":0.292,"y":0.0628},{"s":"g","x":0.283,"y":0.0549},{"s":"g","x":0.25,"y":0.0541},{"s":"g","x":0.264,"y":0.0544},{"s":"g","x":0.295,"y":0.0402},{"s":"g","x":0.264,"y":0.0367},{"s":"g","x":0.246,"y":0.0394},{"s":"g","x":0.252,"y":0.0256},{"s":"g","x":0.24,"y":0.0288},{"s":"g","x":0.29,"y":0.0185},{"s":"g","x":0.237,"y":0.0153},{"s":"g","x":0.238,"y":0.0122},{"s":"g","x":0.236,"y":0.0101},{"s":"g","x":0.232,"y":0.0085},{"s":"g","x":0.228,"y":0.0074},{"s":"g","x":0.224,"y":0.0059},{"s":"g","x":0.22,"y":0.0051},{"s":"g","x":0.215,"y":0.0038}
],
"fc":[
{"s":"m","x":0.116,"y":0.0035},{"s":"m","x":0.148,"y":0.026},{"s":"m","x":0.179,"y":0.046},{"s":"m","x":0.211,"y":0.064},{"s":"m","x":0.254,"y":0.082},{"s":"m","x":0.305,"y":0.099},{"s":"m","x":0.352,"y":0.114},{"s":"m","x":0.403,"y":0.128},{"s":"m","x":0.475,"y":0.144},
{"s":"k","x":0.12,"y":0.0201},{"s":"k","x":0.164,"y":0.038},{"s":"k","x":0.207,"y":0.052},{"s":"k","x":0.254,"y":0.063},{"s":"k","x":0.305,"y":0.0729},{"s":"k","x":0.364,"y":0.083},{"s":"k","x":0.418,"y":0.0905},
{"s":"b","x":0.165,"y":0.0035},{"s":"b","x":0.187,"y":0.0193},{"s":"b","x":0.226,"y":0.043},{"s":"b","x":0.265,"y":0.0636},{"s":"b","x":0.305,"y":0.0842},{"s":"b","x":0.344,"y":0.1032},{"s":"b","x":0.381,"y":0.1222},
{"s":"g","x":0.216,"y":0.0335},{"s":"g","x":0.265,"y":0.0517},{"s":"g","x":0.305,"y":0.0636},{"s":"g","x":0.344,"y":0.0731},{"s":"g","x":0.383,"y":0.0826},{"s":"g","x":0.445,"y":0.0926}
],
"d":[
{"s":"m","x":0.272,"y":30.7},{"s":"m","x":0.374,"y":30.1},{"s":"m","x":0.287,"y":28.9},{"s":"m","x":0.196,"y":28.2},{"s":"m","x":0.32,"y":28.3},{"s":"m","x":0.276,"y":25.3},{"s":"m","x":0.285,"y":25.4},{"s":"m","x":0.218,"y":25.2},{"s":"m","x":0.176,"y":24.7},{"s":"m","x":0.181,"y":23.7},{"s":"m","x":0.29,"y":23.1},{"s":"m","x":0.127,"y":21.7},{"s":"m","x":0.476,"y":21.9},{"s":"m","x":0.265,"y":21.5},{"s":"m","x":0.229,"y":20.6},{"s":"m","x":0.23,"y":20},{"s":"m","x":0.26,"y":19.8},{"s":"m","x":0.244,"y":19.8},{"s":"m","x":0.292,"y":19.8},{"s":"m","x":0.354,"y":20.1},{"s":"m","x":0.221,"y":18.9},{"s":"m","x":0.242,"y":18.7},{"s":"m","x":0.231,"y":18.4},{"s":"m","x":0.194,"y":17.7},{"s":"m","x":0.317,"y":17.8},{"s":"m","x":0.251,"y":17.5},{"s":"m","x":0.282,"y":17.3},{"s":"m","x":0.21,"y":16.2},{"s":"m","x":0.216,"y":15.5},{"s":"m","x":0.223,"y":15.7},{"s":"m","x":0.229,"y":16.4},{"s":"m","x":0.192,"y":14.9},{"s":"m","x":0.123,"y":15.6},{"s":"m","x":0.169,"y":14.3},{"s":"m","x":0.234,"y":10.8},{"s":"m","x":0.283,"y":11.4},{"s":"m","x":0.16,"y":12.2},{"s":"m","x":0.14,"y":8},{"s":"m","x":0.152,"y":8},{"s":"m","x":0.149,"y":6.6},{"s":"m","x":0.105,"y":5.9},{"s":"m","x":0.133,"y":5.1},{"s":"m","x":0.14,"y":4.5},{"s":"m","x":0.122,"y":3.6},{"s":"m","x":0.114,"y":3.1},{"s":"m","x":0.111,"y":2.4},{"s":"m","x":0.108,"y":2},{"s":"m","x":0.109,"y":1.6},{"s":"m","x":0.106,"y":1.3},{"s":"m","x":0.107,"y":0.9},{"s":"m","x":0.105,"y":0.5},{"s":"m","x":0.108,"y":0.4},
{"s":"k","x":0.291,"y":34.2},{"s":"k","x":0.359,"y":30.5},{"s":"k","x":0.409,"y":29.2},{"s":"k","x":0.229,"y":25.5},{"s":"k","x":0.33,"y":25.7},{"s":"k","x":0.427,"y":25.7},{"s":"k","x":0.346,"y":24.3},{"s":"k","x":0.394,"y":23.7},{"s":"k","x":0.181,"y":23.6},{"s":"k","x":0.243,"y":22.7},{"s":"k","x":0.354,"y":22.1},{"s":"k","x":0.373,"y":21.9},{"s":"k","x":0.396,"y":22.5},{"s":"k","x":0.392,"y":22.2},{"s":"k","x":0.363,"y":21},{"s":"k","x":0.323,"y":21.3},{"s":"k","x":0.329,"y":21.2},{"s":"k","x":0.378,"y":20.5},{"s":"k","x":0.323,"y":20.4},{"s":"k","x":0.253,"y":21},{"s":"k","x":0.258,"y":20.8},{"s":"k","x":0.268,"y":21.6},{"s":"k","x":0.221,"y":20.7},{"s":"k","x":0.235,"y":20.8},{"s":"k","x":0.272,"y":19.9},{"s":"k","x":0.288,"y":19.6},{"s":"k","x":0.314,"y":19.9},{"s":"k","x":0.335,"y":18.8},{"s":"k","x":0.267,"y":18.8},{"s":"k","x":0.239,"y":18.2},{"s":"k","x":0.208,"y":18.2},{"s":"k","x":0.254,"y":17.5},{"s":"k","x":0.287,"y":17.5},{"s":"k","x":0.291,"y":17.3},{"s":"k","x":0.381,"y":17.7},{"s":"k","x":0.238,"y":16.9},{"s":"k","x":0.221,"y":16.8},{"s":"k","x":0.212,"y":16.5},{"s":"k","x":0.221,"y":16.3},{"s":"k","x":0.201,"y":16},{"s":"k","x":0.247,"y":15.7},{"s":"k","x":0.314,"y":16.8},{"s":"k","x":0.312,"y":16},{"s":"k","x":0.368,"y":16.4},{"s":"k","x":0.368,"y":16},{"s":"k","x":0.265,"y":15.4},{"s":"k","x":0.272,"y":14.8},{"s":"k","x":0.236,"y":14.8},{"s":"k","x":0.205,"y":14.8},{"s":"k","x":0.189,"y":14.5},{"s":"k","x":0.176,"y":14.7},{"s":"k","x":0.301,"y":14.6},{"s":"k","x":0.351,"y":14.6},{"s":"k","x":0.251,"y":14},{"s":"k","x":0.223,"y":13.5},{"s":"k","x":0.198,"y":13.2},{"s":"k","x":0.232,"y":13.1},{"s":"k","x":0.146,"y":13.2},{"s":"k","x":0.178,"y":12.5},{"s":"k","x":0.233,"y":11.8},{"s":"k","x":0.341,"y":11.5},{"s":"k","x":0.418,"y":11.8},{"s":"k","x":0.165,"y":9.9},{"s":"k","x":0.158,"y":7},{"s":"k","x":0.142,"y":6.2},{"s":"k","x":0.14,"y":5},{"s":"k","x":0.136,"y":3.9},{"s":"k","x":0.134,"y":3.1},{"s":"k","x":0.125,"y":2.7},{"s":"k","x":0.129,"y":2.4},{"s":"k","x":0.127,"y":2},{"s":"k","x":0.12,"y":1.4},
{"s":"b","x":0.285,"y":30.6},{"s":"b","x":0.389,"y":30},{"s":"b","x":0.302,"y":28.8},{"s":"b","x":0.177,"y":28},{"s":"b","x":0.34,"y":28.2},{"s":"b","x":0.259,"y":25},{"s":"b","x":0.305,"y":25.4},{"s":"b","x":0.314,"y":25.2},{"s":"b","x":0.201,"y":24.6},{"s":"b","x":0.26,"y":23.7},{"s":"b","x":0.298,"y":22.9},{"s":"b","x":0.175,"y":21.7},{"s":"b","x":0.334,"y":21.8},{"s":"b","x":0.216,"y":21.2},{"s":"b","x":0.296,"y":21.4},{"s":"b","x":0.283,"y":20.5},{"s":"b","x":0.314,"y":20.1},{"s":"b","x":0.323,"y":19.6},{"s":"b","x":0.369,"y":20},{"s":"b","x":0.266,"y":19.9},{"s":"b","x":0.281,"y":19.6},{"s":"b","x":0.272,"y":18.7},{"s":"b","x":0.29,"y":18.5},{"s":"b","x":0.26,"y":18.4},{"s":"b","x":0.209,"y":17.5},{"s":"b","x":0.341,"y":17.7},{"s":"b","x":0.296,"y":17.3},{"s":"b","x":0.304,"y":17.4},{"s":"b","x":0.287,"y":17},{"s":"b","x":0.256,"y":16.2},{"s":"b","x":0.278,"y":16.3},{"s":"b","x":0.287,"y":16},{"s":"b","x":0.27,"y":16},{"s":"b","x":0.258,"y":15.6},{"s":"b","x":0.28,"y":15.7},{"s":"b","x":0.172,"y":15.4},{"s":"b","x":0.262,"y":14.8},{"s":"b","x":0.245,"y":14.8},{"s":"b","x":0.177,"y":14.1},{"s":"b","x":0.196,"y":12.1},{"s":"b","x":0.299,"y":11.4},{"s":"b","x":0.287,"y":10.7},{"s":"b","x":0.166,"y":7.9},{"s":"b","x":0.171,"y":7.9},{"s":"b","x":0.19,"y":6.5},{"s":"b","x":0.162,"y":5.8},{"s":"b","x":0.161,"y":5},{"s":"b","x":0.182,"y":4.4},{"s":"b","x":0.176,"y":3.6},{"s":"b","x":0.169,"y":3.4},{"s":"b","x":0.167,"y":3},{"s":"b","x":0.172,"y":2.3},{"s":"b","x":0.166,"y":2.4},{"s":"b","x":0.164,"y":2},{"s":"b","x":0.162,"y":1.5},{"s":"b","x":0.165,"y":1.3},{"s":"b","x":0.174,"y":0.8},{"s":"b","x":0.18,"y":0.7},{"s":"b","x":0.185,"y":0.5},{"s":"b","x":0.196,"y":0.6},{"s":"b","x":0.207,"y":0.6},{"s":"b","x":0.223,"y":0.4},
{"s":"g","x":0.326,"y":34.2},{"s":"g","x":0.384,"y":30.5},{"s":"g","x":0.43,"y":29.2},{"s":"g","x":0.355,"y":25.7},{"s":"g","x":0.446,"y":25.7},{"s":"g","x":0.282,"y":25.5},{"s":"g","x":0.253,"y":23.6},{"s":"g","x":0.368,"y":24.3},{"s":"g","x":0.415,"y":23.7},{"s":"g","x":0.286,"y":22.7},{"s":"g","x":0.376,"y":22.1},{"s":"g","x":0.4,"y":21.9},{"s":"g","x":0.417,"y":22.4},{"s":"g","x":0.419,"y":22.5},{"s":"g","x":0.278,"y":21.5},{"s":"g","x":0.293,"y":21.1},{"s":"g","x":0.349,"y":21.2},{"s":"g","x":0.404,"y":20.5},{"s":"g","x":0.31,"y":19.9},{"s":"g","x":0.301,"y":18.8},{"s":"g","x":0.362,"y":18.8},{"s":"g","x":0.407,"y":17.7},{"s":"g","x":0.312,"y":17.5},{"s":"g","x":0.326,"y":17.1},{"s":"g","x":0.343,"y":16.9},{"s":"g","x":0.394,"y":16.5},{"s":"g","x":0.395,"y":16},{"s":"g","x":0.34,"y":16},{"s":"g","x":0.321,"y":15.7},{"s":"g","x":0.293,"y":15.9},{"s":"g","x":0.303,"y":15.6},{"s":"g","x":0.274,"y":15.6},{"s":"g","x":0.308,"y":14.8},{"s":"g","x":0.285,"y":14.8},{"s":"g","x":0.331,"y":14.6},{"s":"g","x":0.376,"y":14.6},{"s":"g","x":0.295,"y":14},{"s":"g","x":0.263,"y":13.3},{"s":"g","x":0.274,"y":13.5},{"s":"g","x":0.283,"y":13.2},{"s":"g","x":0.253,"y":12.4},{"s":"g","x":0.281,"y":11.7},{"s":"g","x":0.367,"y":11.5},{"s":"g","x":0.437,"y":11.8},{"s":"g","x":0.246,"y":9.9},{"s":"g","x":0.24,"y":7},{"s":"g","x":0.238,"y":6.2},{"s":"g","x":0.238,"y":5},{"s":"g","x":0.236,"y":3.9},{"s":"g","x":0.232,"y":3.1},{"s":"g","x":0.224,"y":2.7},{"s":"g","x":0.229,"y":2.4},{"s":"g","x":0.227,"y":2},{"s":"g","x":0.22,"y":1.5},{"s":"g","x":0.216,"y":1.4}
],
"fd":[
{"s":"m","x":0.105,"y":2.9},{"s":"m","x":0.127,"y":6},{"s":"m","x":0.162,"y":10},{"s":"m","x":0.2,"y":13.6},{"s":"m","x":0.247,"y":17.3},{"s":"m","x":0.297,"y":21},{"s":"m","x":0.355,"y":25},{"s":"m","x":0.413,"y":28.5},{"s":"m","x":0.475,"y":31.5},
{"s":"k","x":0.119,"y":5.8},{"s":"k","x":0.142,"y":8.3},{"s":"k","x":0.181,"y":11.8},{"s":"k","x":0.22,"y":14.3},{"s":"k","x":0.258,"y":16.3},{"s":"k","x":0.297,"y":18.2},{"s":"k","x":0.336,"y":20},{"s":"k","x":0.374,"y":21.9},{"s":"k","x":0.419,"y":24.1},
{"s":"b","x":0.166,"y":5.1},{"s":"b","x":0.181,"y":7.3},{"s":"b","x":0.22,"y":11.9},{"s":"b","x":0.258,"y":15.6},{"s":"b","x":0.297,"y":19},{"s":"b","x":0.336,"y":22.5},{"s":"b","x":0.381,"y":26.4},
{"s":"g","x":0.216,"y":8.6},{"s":"g","x":0.239,"y":10.7},{"s":"g","x":0.278,"y":13.8},{"s":"g","x":0.316,"y":16.7},{"s":"g","x":0.355,"y":19.2},{"s":"g","x":0.394,"y":21.7},{"s":"g","x":0.445,"y":25.4}
],
"e":[
{"s":"m","x":0.272,"y":41.3},{"s":"m","x":0.287,"y":30.6},{"s":"m","x":0.374,"y":29.7},{"s":"m","x":0.196,"y":29.2},{"s":"m","x":0.23,"y":29.7},{"s":"m","x":0.218,"y":27},{"s":"m","x":0.127,"y":25.9},{"s":"m","x":0.18,"y":24.4},{"s":"m","x":0.229,"y":24.9},{"s":"m","x":0.476,"y":25},{"s":"m","x":0.276,"y":23.6},{"s":"m","x":0.285,"y":22.9},{"s":"m","x":0.264,"y":21.7},{"s":"m","x":0.353,"y":21.5},{"s":"m","x":0.317,"y":19.6},{"s":"m","x":0.243,"y":20.2},{"s":"m","x":0.223,"y":19.4},{"s":"m","x":0.243,"y":19.2},{"s":"m","x":0.233,"y":17.5},{"s":"m","x":0.212,"y":16.7},{"s":"m","x":0.229,"y":16.6},{"s":"m","x":0.257,"y":17.7},{"s":"m","x":0.191,"y":15.5},{"s":"m","x":0.193,"y":14.7},{"s":"m","x":0.173,"y":12.9},{"s":"m","x":0.234,"y":11.9},{"s":"m","x":0.283,"y":12.5},{"s":"m","x":0.123,"y":10.9},{"s":"m","x":0.152,"y":8},{"s":"m","x":0.16,"y":6.8},{"s":"m","x":0.133,"y":4.3},{"s":"m","x":0.148,"y":3.9},{"s":"m","x":0.14,"y":2.6},{"s":"m","x":0.105,"y":2.5},{"s":"m","x":0.134,"y":1.7},{"s":"m","x":0.121,"y":1.1},{"s":"m","x":0.109,"y":0.9},{"s":"m","x":0.107,"y":0.5},{"s":"m","x":0.105,"y":0.3},{"s":"m","x":0.113,"y":0.5},
{"s":"k","x":0.29,"y":39.1},{"s":"k","x":0.359,"y":35.6},{"s":"k","x":0.409,"y":33.6},{"s":"k","x":0.329,"y":32.9},{"s":"k","x":0.229,"y":29.5},{"s":"k","x":0.18,"y":27.4},{"s":"k","x":0.393,"y":25.6},{"s":"k","x":0.427,"y":25.4},{"s":"k","x":0.345,"y":25.2},{"s":"k","x":0.272,"y":24.5},{"s":"k","x":0.235,"y":23.9},{"s":"k","x":0.258,"y":23.5},{"s":"k","x":0.354,"y":23.3},{"s":"k","x":0.392,"y":23},{"s":"k","x":0.398,"y":22.3},{"s":"k","x":0.328,"y":22.7},{"s":"k","x":0.378,"y":22.9},{"s":"k","x":0.374,"y":22.3},{"s":"k","x":0.325,"y":21.6},{"s":"k","x":0.363,"y":21.9},{"s":"k","x":0.288,"y":21.9},{"s":"k","x":0.22,"y":20.2},{"s":"k","x":0.243,"y":21},{"s":"k","x":0.253,"y":21},{"s":"k","x":0.259,"y":20.6},{"s":"k","x":0.266,"y":20.2},{"s":"k","x":0.314,"y":19.9},{"s":"k","x":0.334,"y":19.9},{"s":"k","x":0.208,"y":19.6},{"s":"k","x":0.289,"y":19.2},{"s":"k","x":0.239,"y":18.7},{"s":"k","x":0.254,"y":18.7},{"s":"k","x":0.22,"y":18.5},{"s":"k","x":0.303,"y":18.3},{"s":"k","x":0.368,"y":18.1},{"s":"k","x":0.381,"y":18.7},{"s":"k","x":0.289,"y":18.1},{"s":"k","x":0.287,"y":17.5},{"s":"k","x":0.22,"y":17.4},{"s":"k","x":0.314,"y":18.1},{"s":"k","x":0.312,"y":17.1},{"s":"k","x":0.368,"y":16.9},{"s":"k","x":0.285,"y":17.3},{"s":"k","x":0.201,"y":16.4},{"s":"k","x":0.206,"y":16.7},{"s":"k","x":0.238,"y":16.7},{"s":"k","x":0.252,"y":17.1},{"s":"k","x":0.214,"y":16.2},{"s":"k","x":0.235,"y":15.9},{"s":"k","x":0.247,"y":16.3},{"s":"k","x":0.262,"y":16.7},{"s":"k","x":0.198,"y":14.5},{"s":"k","x":0.189,"y":14.4},{"s":"k","x":0.177,"y":14.3},{"s":"k","x":0.223,"y":14.3},{"s":"k","x":0.232,"y":14.3},{"s":"k","x":0.271,"y":15},{"s":"k","x":0.301,"y":15.5},{"s":"k","x":0.351,"y":15.4},{"s":"k","x":0.178,"y":13},{"s":"k","x":0.233,"y":12.4},{"s":"k","x":0.341,"y":12},{"s":"k","x":0.418,"y":11.9},{"s":"k","x":0.165,"y":9.7},{"s":"k","x":0.146,"y":7.4},{"s":"k","x":0.158,"y":6.9},{"s":"k","x":0.142,"y":4},{"s":"k","x":0.124,"y":2.8},{"s":"k","x":0.138,"y":3},{"s":"k","x":0.136,"y":2.5},{"s":"k","x":0.129,"y":1.9},{"s":"k","x":0.121,"y":1.1},
{"s":"b","x":0.285,"y":41.1},{"s":"b","x":0.302,"y":30.5},{"s":"b","x":0.265,"y":29.6},{"s":"b","x":0.389,"y":29.6},{"s":"b","x":0.177,"y":29.1},{"s":"b","x":0.174,"y":25.8},{"s":"b","x":0.259,"y":27},{"s":"b","x":0.285,"y":24.7},{"s":"b","x":0.26,"y":24.3},{"s":"b","x":0.333,"y":24.9},{"s":"b","x":0.314,"y":23.5},{"s":"b","x":0.305,"y":22.8},{"s":"b","x":0.34,"y":22.9},{"s":"b","x":0.314,"y":21.8},{"s":"b","x":0.323,"y":20.6},{"s":"b","x":0.298,"y":21.9},{"s":"b","x":0.369,"y":21.4},{"s":"b","x":0.28,"y":20},{"s":"b","x":0.284,"y":19.4},{"s":"b","x":0.268,"y":19.3},{"s":"b","x":0.216,"y":17.9},{"s":"b","x":0.341,"y":18.5},{"s":"b","x":0.304,"y":18.5},{"s":"b","x":0.297,"y":17.5},{"s":"b","x":0.26,"y":17.3},{"s":"b","x":0.271,"y":17.3},{"s":"b","x":0.276,"y":16.7},{"s":"b","x":0.268,"y":16.4},{"s":"b","x":0.279,"y":16.2},{"s":"b","x":0.254,"y":16.1},{"s":"b","x":0.255,"y":15.5},{"s":"b","x":0.245,"y":15.5},{"s":"b","x":0.262,"y":14.6},{"s":"b","x":0.209,"y":14.8},{"s":"b","x":0.201,"y":12.8},{"s":"b","x":0.286,"y":11.8},{"s":"b","x":0.298,"y":12.5},{"s":"b","x":0.172,"y":10.8},{"s":"b","x":0.177,"y":10},{"s":"b","x":0.171,"y":7.8},{"s":"b","x":0.196,"y":6.6},{"s":"b","x":0.176,"y":4.2},{"s":"b","x":0.19,"y":3.8},{"s":"b","x":0.166,"y":2.5},{"s":"b","x":0.162,"y":2.3},{"s":"b","x":0.182,"y":2.6},{"s":"b","x":0.161,"y":1.4},{"s":"b","x":0.172,"y":1.4},{"s":"b","x":0.167,"y":0.9},{"s":"b","x":0.162,"y":0.4},{"s":"b","x":0.169,"y":0.5},{"s":"b","x":0.175,"y":0.3},{"s":"b","x":0.185,"y":0.5},{"s":"b","x":0.196,"y":0.6},{"s":"b","x":0.207,"y":0.6},{"s":"b","x":0.223,"y":0.5},
{"s":"g","x":0.325,"y":39.1},{"s":"g","x":0.383,"y":35.6},{"s":"g","x":0.43,"y":33.6},{"s":"g","x":0.355,"y":32.9},{"s":"g","x":0.279,"y":29.5},{"s":"g","x":0.252,"y":27.5},{"s":"g","x":0.37,"y":25.2},{"s":"g","x":0.416,"y":25.6},{"s":"g","x":0.445,"y":25.4},{"s":"g","x":0.31,"y":24.5},{"s":"g","x":0.289,"y":23.8},{"s":"g","x":0.357,"y":22.8},{"s":"g","x":0.403,"y":22.8},{"s":"g","x":0.415,"y":23},{"s":"g","x":0.419,"y":22.3},{"s":"g","x":0.38,"y":23.2},{"s":"g","x":0.311,"y":21.6},{"s":"g","x":0.322,"y":20.8},{"s":"g","x":0.359,"y":19.9},{"s":"g","x":0.279,"y":20},{"s":"g","x":0.289,"y":21},{"s":"g","x":0.301,"y":19.6},{"s":"g","x":0.331,"y":19.4},{"s":"g","x":0.276,"y":18.9},{"s":"g","x":0.318,"y":18.5},{"s":"g","x":0.332,"y":18.3},{"s":"g","x":0.343,"y":17.9},{"s":"g","x":0.394,"y":18.1},{"s":"g","x":0.417,"y":18.7},{"s":"g","x":0.295,"y":17.5},{"s":"g","x":0.318,"y":17.3},{"s":"g","x":0.34,"y":17.1},{"s":"g","x":0.394,"y":16.8},{"s":"g","x":0.286,"y":16.9},{"s":"g","x":0.302,"y":16.7},{"s":"g","x":0.293,"y":16.3},{"s":"g","x":0.27,"y":15.9},{"s":"g","x":0.286,"y":16},{"s":"g","x":0.33,"y":15.7},{"s":"g","x":0.375,"y":15.4},{"s":"g","x":0.307,"y":15},{"s":"g","x":0.252,"y":14.4},{"s":"g","x":0.262,"y":14.4},{"s":"g","x":0.283,"y":14.4},{"s":"g","x":0.272,"y":14.3},{"s":"g","x":0.252,"y":13},{"s":"g","x":0.283,"y":12.5},{"s":"g","x":0.367,"y":12},{"s":"g","x":0.437,"y":11.9},{"s":"g","x":0.246,"y":9.8},{"s":"g","x":0.236,"y":7.4},{"s":"g","x":0.24,"y":7},{"s":"g","x":0.237,"y":4},{"s":"g","x":0.222,"y":2.8},{"s":"g","x":0.237,"y":3},{"s":"g","x":0.234,"y":2.5},{"s":"g","x":0.229,"y":1.9},{"s":"g","x":0.224,"y":1.7},{"s":"g","x":0.218,"y":1.1}
],
"fe":[
{"s":"m","x":0.107,"y":2.3},{"s":"m","x":0.125,"y":4.6},{"s":"m","x":0.152,"y":8.2},{"s":"m","x":0.183,"y":12.1},{"s":"m","x":0.222,"y":16.3},{"s":"m","x":0.26,"y":19.2},{"s":"m","x":0.299,"y":22},{"s":"m","x":0.338,"y":24.6},{"s":"m","x":0.376,"y":27.2},{"s":"m","x":0.415,"y":29.6},{"s":"m","x":0.474,"y":33.4},
{"s":"k","x":0.119,"y":5},{"s":"k","x":0.144,"y":7.8},{"s":"k","x":0.183,"y":11.9},{"s":"k","x":0.222,"y":15.1},{"s":"k","x":0.26,"y":17.7},{"s":"k","x":0.299,"y":19.8},{"s":"k","x":0.338,"y":22},{"s":"k","x":0.376,"y":23.9},{"s":"k","x":0.419,"y":26},
{"s":"b","x":0.162,"y":3.1},{"s":"b","x":0.183,"y":6.2},{"s":"b","x":0.222,"y":11.7},{"s":"b","x":0.26,"y":16.5},{"s":"b","x":0.299,"y":20.4},{"s":"b","x":0.338,"y":24.4},{"s":"b","x":0.38,"y":28.1},
{"s":"g","x":0.216,"y":8.3},{"s":"g","x":0.241,"y":11.1},{"s":"g","x":0.28,"y":15.3},{"s":"g","x":0.318,"y":18.8},{"s":"g","x":0.357,"y":21.6},{"s":"g","x":0.396,"y":24.4},{"s":"g","x":0.445,"y":27.5}
],
"f":[
{"s":"m","x":0.229,"y":106},{"s":"m","x":0.29,"y":104.8},{"s":"m","x":0.231,"y":99.6},{"s":"m","x":0.476,"y":97},{"s":"m","x":0.235,"y":94.7},{"s":"m","x":0.318,"y":95.6},{"s":"m","x":0.244,"y":89.9},{"s":"m","x":0.264,"y":91.5},{"s":"m","x":0.374,"y":91.5},{"s":"m","x":0.354,"y":90.4},{"s":"m","x":0.273,"y":87.2},{"s":"m","x":0.238,"y":84.7},{"s":"m","x":0.213,"y":83.7},{"s":"m","x":0.216,"y":82.8},{"s":"m","x":0.152,"y":85.2},{"s":"m","x":0.105,"y":81.6},{"s":"m","x":0.109,"y":80.7},{"s":"m","x":0.18,"y":75.7},{"s":"m","x":0.191,"y":77.3},{"s":"m","x":0.196,"y":72.8},{"s":"m","x":0.209,"y":72.8},{"s":"m","x":0.229,"y":71.9},{"s":"m","x":0.248,"y":71.9},{"s":"m","x":0.277,"y":81.2},{"s":"m","x":0.109,"y":71.1},{"s":"m","x":0.218,"y":68.5},{"s":"m","x":0.221,"y":66.6},{"s":"m","x":0.19,"y":66.2},{"s":"m","x":0.231,"y":64.7},{"s":"m","x":0.109,"y":63.6},{"s":"m","x":0.287,"y":67.3},{"s":"m","x":0.289,"y":67.1},{"s":"m","x":0.278,"y":61.4},{"s":"m","x":0.126,"y":61.9},{"s":"m","x":0.194,"y":59.3},{"s":"m","x":0.29,"y":59.5},{"s":"m","x":0.256,"y":51.7},{"s":"m","x":0.123,"y":47.4},{"s":"m","x":0.127,"y":44.1},{"s":"m","x":0.107,"y":40.8},{"s":"m","x":0.14,"y":39.4},{"s":"m","x":0.149,"y":40.8},{"s":"m","x":0.16,"y":42.4},{"s":"m","x":0.176,"y":38.6},{"s":"m","x":0.113,"y":34.4},{"s":"m","x":0.109,"y":32.9},{"s":"m","x":0.105,"y":31.2},{"s":"m","x":0.133,"y":24.9},{"s":"m","x":0.142,"y":25.5},{"s":"m","x":0.119,"y":22},{"s":"m","x":0.109,"y":20.3},{"s":"m","x":0.123,"y":17.8},{"s":"m","x":0.113,"y":17.8},{"s":"m","x":0.107,"y":17.5},{"s":"m","x":0.116,"y":15.4},{"s":"m","x":0.105,"y":15.2},
{"s":"k","x":0.271,"y":109.2},{"s":"k","x":0.251,"y":97},{"s":"k","x":0.331,"y":96.8},{"s":"k","x":0.368,"y":95.3},{"s":"k","x":0.221,"y":94.2},{"s":"k","x":0.233,"y":94},{"s":"k","x":0.235,"y":92},{"s":"k","x":0.237,"y":90.9},{"s":"k","x":0.205,"y":90.6},{"s":"k","x":0.382,"y":91.8},{"s":"k","x":0.419,"y":92.8},{"s":"k","x":0.288,"y":90.7},{"s":"k","x":0.303,"y":90.6},{"s":"k","x":0.316,"y":89.6},{"s":"k","x":0.342,"y":90.9},{"s":"k","x":0.353,"y":89.4},{"s":"k","x":0.313,"y":88.8},{"s":"k","x":0.302,"y":89},{"s":"k","x":0.264,"y":89},{"s":"k","x":0.278,"y":90.1},{"s":"k","x":0.368,"y":91},{"s":"k","x":0.124,"y":87.8},{"s":"k","x":0.233,"y":87.2},{"s":"k","x":0.29,"y":86.6},{"s":"k","x":0.334,"y":87.8},{"s":"k","x":0.326,"y":86.6},{"s":"k","x":0.246,"y":85.6},{"s":"k","x":0.255,"y":85.3},{"s":"k","x":0.41,"y":85.2},{"s":"k","x":0.222,"y":85.2},{"s":"k","x":0.229,"y":83.7},{"s":"k","x":0.328,"y":85.3},{"s":"k","x":0.238,"y":82.5},{"s":"k","x":0.249,"y":81.6},{"s":"k","x":0.181,"y":81.4},{"s":"k","x":0.257,"y":81.6},{"s":"k","x":0.289,"y":81.8},{"s":"k","x":0.346,"y":82.5},{"s":"k","x":0.393,"y":83.5},{"s":"k","x":0.22,"y":80.7},{"s":"k","x":0.375,"y":80.4},{"s":"k","x":0.324,"y":80.1},{"s":"k","x":0.267,"y":80.4},{"s":"k","x":0.209,"y":79},{"s":"k","x":0.199,"y":78.5},{"s":"k","x":0.179,"y":78.5},{"s":"k","x":0.316,"y":78.8},{"s":"k","x":0.258,"y":78.8},{"s":"k","x":0.158,"y":77.3},{"s":"k","x":0.202,"y":76.3},{"s":"k","x":0.267,"y":76.6},{"s":"k","x":0.271,"y":76.1},{"s":"k","x":0.238,"y":76.1},{"s":"k","x":0.261,"y":75.7},{"s":"k","x":0.165,"y":73.3},{"s":"k","x":0.255,"y":73.8},{"s":"k","x":0.282,"y":73},{"s":"k","x":0.22,"y":71.7},{"s":"k","x":0.213,"y":70.3},{"s":"k","x":0.178,"y":70.9},{"s":"k","x":0.398,"y":71.1},{"s":"k","x":0.364,"y":69.8},{"s":"k","x":0.19,"y":68.5},{"s":"k","x":0.291,"y":68.5},{"s":"k","x":0.269,"y":67.6},{"s":"k","x":0.427,"y":66.4},{"s":"k","x":0.244,"y":63.8},{"s":"k","x":0.394,"y":63.8},{"s":"k","x":0.364,"y":60.8},{"s":"k","x":0.121,"y":51.2},{"s":"k","x":0.127,"y":51.9},{"s":"k","x":0.134,"y":48.9},{"s":"k","x":0.135,"y":47.7},{"s":"k","x":0.12,"y":46.7},{"s":"k","x":0.139,"y":38.2},{"s":"k","x":0.141,"y":38.6},{"s":"k","x":0.147,"y":27.4},
{"s":"b","x":0.285,"y":105.9},{"s":"b","x":0.315,"y":104.4},{"s":"b","x":0.266,"y":99.2},{"s":"b","x":0.334,"y":96.6},{"s":"b","x":0.341,"y":95.3},{"s":"b","x":0.288,"y":94.7},{"s":"b","x":0.296,"y":91.3},{"s":"b","x":0.389,"y":90.9},{"s":"b","x":0.281,"y":89.7},{"s":"b","x":0.369,"y":89.7},{"s":"b","x":0.286,"y":86.6},{"s":"b","x":0.305,"y":86.1},{"s":"b","x":0.277,"y":85.6},{"s":"b","x":0.171,"y":85},{"s":"b","x":0.324,"y":84.2},{"s":"b","x":0.27,"y":84.2},{"s":"b","x":0.287,"y":83.7},{"s":"b","x":0.271,"y":82.8},{"s":"b","x":0.257,"y":82.8},{"s":"b","x":0.3,"y":82.5},{"s":"b","x":0.196,"y":80.9},{"s":"b","x":0.223,"y":81.4},{"s":"b","x":0.341,"y":82},{"s":"b","x":0.315,"y":80.6},{"s":"b","x":0.245,"y":76.8},{"s":"b","x":0.261,"y":75.9},{"s":"b","x":0.258,"y":73.6},{"s":"b","x":0.285,"y":74},{"s":"b","x":0.177,"y":72.5},{"s":"b","x":0.184,"y":70.9},{"s":"b","x":0.277,"y":71.4},{"s":"b","x":0.298,"y":71.9},{"s":"b","x":0.258,"y":68.3},{"s":"b","x":0.302,"y":67.3},{"s":"b","x":0.306,"y":67.6},{"s":"b","x":0.271,"y":66.8},{"s":"b","x":0.261,"y":64.7},{"s":"b","x":0.26,"y":64.5},{"s":"b","x":0.207,"y":63.5},{"s":"b","x":0.175,"y":61.7},{"s":"b","x":0.295,"y":61.1},{"s":"b","x":0.299,"y":59.3},{"s":"b","x":0.21,"y":58.9},{"s":"b","x":0.216,"y":51.6},{"s":"b","x":0.242,"y":51.5},{"s":"b","x":0.171,"y":46.9},{"s":"b","x":0.178,"y":46.5},{"s":"b","x":0.172,"y":43.9},{"s":"b","x":0.197,"y":42.2},{"s":"b","x":0.19,"y":40.5},{"s":"b","x":0.18,"y":40.7},{"s":"b","x":0.182,"y":39.1},{"s":"b","x":0.202,"y":38.4},{"s":"b","x":0.165,"y":33.9},{"s":"b","x":0.164,"y":32.7},{"s":"b","x":0.162,"y":31},{"s":"b","x":0.175,"y":31},{"s":"b","x":0.165,"y":25.3},{"s":"b","x":0.162,"y":24.6},{"s":"b","x":0.169,"y":21.6},{"s":"b","x":0.164,"y":19.8},{"s":"b","x":0.162,"y":17.3},{"s":"b","x":0.167,"y":17.3},{"s":"b","x":0.171,"y":17.5},{"s":"b","x":0.165,"y":15.4},{"s":"b","x":0.162,"y":14.9},
{"s":"g","x":0.311,"y":109.2},{"s":"g","x":0.295,"y":97},{"s":"g","x":0.356,"y":96.8},{"s":"g","x":0.394,"y":95.3},{"s":"g","x":0.275,"y":94.2},{"s":"g","x":0.283,"y":93.7},{"s":"g","x":0.438,"y":92.8},{"s":"g","x":0.406,"y":91.8},{"s":"g","x":0.277,"y":90.4},{"s":"g","x":0.312,"y":90.2},{"s":"g","x":0.324,"y":90.6},{"s":"g","x":0.33,"y":89.9},{"s":"g","x":0.336,"y":89.9},{"s":"g","x":0.379,"y":89.4},{"s":"g","x":0.223,"y":88},{"s":"g","x":0.323,"y":87.1},{"s":"g","x":0.354,"y":86.3},{"s":"g","x":0.279,"y":85.6},{"s":"g","x":0.384,"y":85},{"s":"g","x":0.43,"y":85.2},{"s":"g","x":0.416,"y":83.5},{"s":"g","x":0.371,"y":83},{"s":"g","x":0.279,"y":82.8},{"s":"g","x":0.295,"y":81.8},{"s":"g","x":0.4,"y":80.4},{"s":"g","x":0.35,"y":80.1},{"s":"g","x":0.331,"y":79},{"s":"g","x":0.291,"y":79},{"s":"g","x":0.305,"y":76.6},{"s":"g","x":0.309,"y":76.1},{"s":"g","x":0.285,"y":76.1},{"s":"g","x":0.245,"y":73.3},{"s":"g","x":0.254,"y":72.5},{"s":"g","x":0.316,"y":72.8},{"s":"g","x":0.271,"y":71.9},{"s":"g","x":0.277,"y":71.1},{"s":"g","x":0.42,"y":71.1},{"s":"g","x":0.269,"y":69.8},{"s":"g","x":0.362,"y":69.8},{"s":"g","x":0.326,"y":68.5},{"s":"g","x":0.289,"y":63.8},{"s":"g","x":0.416,"y":63.8},{"s":"g","x":0.388,"y":60.8},{"s":"g","x":0.224,"y":51.9},{"s":"g","x":0.216,"y":51.3},{"s":"g","x":0.23,"y":49.3},{"s":"g","x":0.234,"y":48.1},{"s":"g","x":0.216,"y":46.7},{"s":"g","x":0.237,"y":38.4},{"s":"g","x":0.237,"y":27.5},{"s":"g","x":0.446,"y":66.4}
],
"ff":[
{"s":"m","x":0.105,"y":34.4},{"s":"m","x":0.128,"y":45},{"s":"m","x":0.156,"y":54.5},{"s":"m","x":0.187,"y":62.8},{"s":"m","x":0.226,"y":71.5},{"s":"m","x":0.265,"y":79},{"s":"m","x":0.305,"y":85.5},{"s":"m","x":0.344,"y":91.5},{"s":"m","x":0.383,"y":97},{"s":"m","x":0.422,"y":102},{"s":"m","x":0.475,"y":108},
{"s":"k","x":0.12,"y":58.9},{"s":"k","x":0.148,"y":65.2},{"s":"k","x":0.187,"y":71.4},{"s":"k","x":0.226,"y":75.4},{"s":"k","x":0.265,"y":79},{"s":"k","x":0.305,"y":82.3},{"s":"k","x":0.344,"y":85.2},{"s":"k","x":0.383,"y":88},{"s":"k","x":0.418,"y":91.3},
{"s":"b","x":0.164,"y":34.8},{"s":"b","x":0.187,"y":45.3},{"s":"b","x":0.226,"y":60},{"s":"b","x":0.265,"y":71.9},{"s":"b","x":0.305,"y":82.3},{"s":"b","x":0.344,"y":92.8},{"s":"b","x":0.381,"y":103},
{"s":"g","x":0.216,"y":64.9},{"s":"g","x":0.246,"y":70},{"s":"g","x":0.285,"y":75.7},{"s":"g","x":0.324,"y":80.4},{"s":"g","x":0.364,"y":85.2},{"s":"g","x":0.403,"y":89.4},{"s":"g","x":0.445,"y":92.9}
],
"g":[
{"s":"m","x":0.23,"y":148.8},{"s":"m","x":0.256,"y":137.2},{"s":"m","x":0.272,"y":134.2},{"s":"m","x":0.127,"y":119.4},{"s":"m","x":0.229,"y":120.5},{"s":"m","x":0.476,"y":114.8},{"s":"m","x":0.234,"y":110.8},{"s":"m","x":0.284,"y":110.8},{"s":"m","x":0.217,"y":108.2},{"s":"m","x":0.212,"y":106.3},{"s":"m","x":0.191,"y":104.8},{"s":"m","x":0.196,"y":103.8},{"s":"m","x":0.243,"y":105.1},{"s":"m","x":0.18,"y":102.9},{"s":"m","x":0.216,"y":104.4},{"s":"m","x":0.228,"y":102.8},{"s":"m","x":0.354,"y":107.9},{"s":"m","x":0.317,"y":106.6},{"s":"m","x":0.152,"y":99.4},{"s":"m","x":0.374,"y":99.4},{"s":"m","x":0.105,"y":96.4},{"s":"m","x":0.109,"y":98.3},{"s":"m","x":0.209,"y":97.8},{"s":"m","x":0.23,"y":96.2},{"s":"m","x":0.242,"y":98.1},{"s":"m","x":0.276,"y":93.6},{"s":"m","x":0.291,"y":95.5},{"s":"m","x":0.108,"y":88.8},{"s":"m","x":0.285,"y":90.1},{"s":"m","x":0.194,"y":84.1},{"s":"m","x":0.32,"y":81.8},{"s":"m","x":0.109,"y":75.9},{"s":"m","x":0.123,"y":70.5},{"s":"m","x":0.169,"y":70.2},{"s":"m","x":0.127,"y":61.3},{"s":"m","x":0.139,"y":57.1},{"s":"m","x":0.148,"y":56.5},{"s":"m","x":0.16,"y":55.3},{"s":"m","x":0.176,"y":52.4},{"s":"m","x":0.108,"y":45.4},{"s":"m","x":0.11,"y":45.2},{"s":"m","x":0.105,"y":40.4},{"s":"m","x":0.112,"y":39.7},{"s":"m","x":0.119,"y":31.7},{"s":"m","x":0.141,"y":32.4},{"s":"m","x":0.132,"y":30.2},{"s":"m","x":0.108,"y":27.9},{"s":"m","x":0.121,"y":24.5},{"s":"m","x":0.105,"y":19.7},{"s":"m","x":0.11,"y":19.7},{"s":"m","x":0.114,"y":19.8},{"s":"m","x":0.118,"y":20},
{"s":"k","x":0.33,"y":128.5},{"s":"k","x":0.272,"y":123.5},{"s":"k","x":0.25,"y":120.3},{"s":"k","x":0.359,"y":116.7},{"s":"k","x":0.41,"y":115.2},{"s":"k","x":0.18,"y":116.5},{"s":"k","x":0.229,"y":115.8},{"s":"k","x":0.236,"y":115.2},{"s":"k","x":0.258,"y":115},{"s":"k","x":0.22,"y":112.7},{"s":"k","x":0.205,"y":112.3},{"s":"k","x":0.288,"y":111.7},{"s":"k","x":0.379,"y":111.7},{"s":"k","x":0.367,"y":110.1},{"s":"k","x":0.198,"y":108.9},{"s":"k","x":0.208,"y":108.2},{"s":"k","x":0.233,"y":109.5},{"s":"k","x":0.236,"y":108.2},{"s":"k","x":0.292,"y":109.1},{"s":"k","x":0.223,"y":106.7},{"s":"k","x":0.234,"y":105.4},{"s":"k","x":0.394,"y":107.9},{"s":"k","x":0.263,"y":105.4},{"s":"k","x":0.303,"y":106.6},{"s":"k","x":0.315,"y":106.3},{"s":"k","x":0.325,"y":105.7},{"s":"k","x":0.382,"y":106.3},{"s":"k","x":0.338,"y":106.1},{"s":"k","x":0.356,"y":105.1},{"s":"k","x":0.123,"y":104.8},{"s":"k","x":0.178,"y":104.4},{"s":"k","x":0.239,"y":103.8},{"s":"k","x":0.342,"y":103.8},{"s":"k","x":0.363,"y":102.8},{"s":"k","x":0.394,"y":104.2},{"s":"k","x":0.249,"y":102.3},{"s":"k","x":0.27,"y":102.3},{"s":"k","x":0.375,"y":101.9},{"s":"k","x":0.418,"y":101.9},{"s":"k","x":0.22,"y":102.3},{"s":"k","x":0.201,"y":101.5},{"s":"k","x":0.157,"y":100},{"s":"k","x":0.315,"y":100},{"s":"k","x":0.294,"y":99.7},{"s":"k","x":0.188,"y":99},{"s":"k","x":0.178,"y":98.7},{"s":"k","x":0.164,"y":98.1},{"s":"k","x":0.263,"y":98.7},{"s":"k","x":0.397,"y":99.4},{"s":"k","x":0.282,"y":98.7},{"s":"k","x":0.427,"y":98.3},{"s":"k","x":0.239,"y":98.1},{"s":"k","x":0.212,"y":97.4},{"s":"k","x":0.222,"y":97.7},{"s":"k","x":0.269,"y":93.9},{"s":"k","x":0.243,"y":92.8},{"s":"k","x":0.127,"y":87.9},{"s":"k","x":0.122,"y":81.3},{"s":"k","x":0.12,"y":75},{"s":"k","x":0.131,"y":75},{"s":"k","x":0.134,"y":76.9},{"s":"k","x":0.136,"y":78.4},{"s":"k","x":0.142,"y":65.5},{"s":"k","x":0.139,"y":57.5},{"s":"k","x":0.147,"y":54.9},
{"s":"b","x":0.265,"y":148.5},{"s":"b","x":0.241,"y":136.8},{"s":"b","x":0.285,"y":134},{"s":"b","x":0.175,"y":119},{"s":"b","x":0.285,"y":120.3},{"s":"b","x":0.334,"y":114.2},{"s":"b","x":0.315,"y":108.9},{"s":"b","x":0.368,"y":107.6},{"s":"b","x":0.3,"y":109.1},{"s":"b","x":0.259,"y":108.2},{"s":"b","x":0.176,"y":103.2},{"s":"b","x":0.245,"y":104.4},{"s":"b","x":0.281,"y":104.8},{"s":"b","x":0.272,"y":105.7},{"s":"b","x":0.264,"y":104.4},{"s":"b","x":0.303,"y":105.7},{"s":"b","x":0.278,"y":103.4},{"s":"b","x":0.269,"y":103.2},{"s":"b","x":0.34,"y":104.4},{"s":"b","x":0.171,"y":99.1},{"s":"b","x":0.196,"y":98.1},{"s":"b","x":0.294,"y":101.3},{"s":"b","x":0.389,"y":99.1},{"s":"b","x":0.284,"y":100},{"s":"b","x":0.298,"y":99.4},{"s":"b","x":0.223,"y":96.2},{"s":"b","x":0.261,"y":97.7},{"s":"b","x":0.298,"y":95.5},{"s":"b","x":0.295,"y":94.5},{"s":"b","x":0.26,"y":94.7},{"s":"b","x":0.314,"y":93.3},{"s":"b","x":0.304,"y":89.8},{"s":"b","x":0.184,"y":88.6},{"s":"b","x":0.209,"y":83.9},{"s":"b","x":0.216,"y":83.5},{"s":"b","x":0.34,"y":81.5},{"s":"b","x":0.207,"y":75.6},{"s":"b","x":0.173,"y":70.2},{"s":"b","x":0.178,"y":69.8},{"s":"b","x":0.173,"y":61.3},{"s":"b","x":0.182,"y":56.8},{"s":"b","x":0.19,"y":56},{"s":"b","x":0.196,"y":55.3},{"s":"b","x":0.202,"y":52},{"s":"b","x":0.164,"y":45},{"s":"b","x":0.18,"y":45.2},{"s":"b","x":0.162,"y":40},{"s":"b","x":0.166,"y":39.3},{"s":"b","x":0.175,"y":40.1},{"s":"b","x":0.166,"y":31.5},{"s":"b","x":0.17,"y":31.1},{"s":"b","x":0.161,"y":29.6},{"s":"b","x":0.164,"y":27.7},{"s":"b","x":0.171,"y":24.1},{"s":"b","x":0.162,"y":19.4},{"s":"b","x":0.166,"y":20},{"s":"b","x":0.168,"y":19.4},
{"s":"g","x":0.355,"y":128.5},{"s":"g","x":0.31,"y":123.5},{"s":"g","x":0.295,"y":120.3},{"s":"g","x":0.384,"y":116.7},{"s":"g","x":0.43,"y":115.2},{"s":"g","x":0.252,"y":116.5},{"s":"g","x":0.279,"y":115.8},{"s":"g","x":0.291,"y":115},{"s":"g","x":0.267,"y":112.7},{"s":"g","x":0.275,"y":112.7},{"s":"g","x":0.325,"y":111.4},{"s":"g","x":0.321,"y":113.9},{"s":"g","x":0.404,"y":111.7},{"s":"g","x":0.322,"y":109.5},{"s":"g","x":0.417,"y":107.6},{"s":"g","x":0.261,"y":108.9},{"s":"g","x":0.311,"y":107.6},{"s":"g","x":0.332,"y":107.6},{"s":"g","x":0.406,"y":106.3},{"s":"g","x":0.283,"y":106.3},{"s":"g","x":0.299,"y":107.6},{"s":"g","x":0.342,"y":106.1},{"s":"g","x":0.352,"y":105.7},{"s":"g","x":0.36,"y":105.1},{"s":"g","x":0.388,"y":105.1},{"s":"g","x":0.4,"y":101.5},{"s":"g","x":0.416,"y":103.2},{"s":"g","x":0.437,"y":101.5},{"s":"g","x":0.447,"y":98.3},{"s":"g","x":0.332,"y":100.6},{"s":"g","x":0.317,"y":100.2},{"s":"g","x":0.288,"y":102.5},{"s":"g","x":0.269,"y":102.3},{"s":"g","x":0.247,"y":100.6},{"s":"g","x":0.255,"y":98.7},{"s":"g","x":0.313,"y":98.7},{"s":"g","x":0.281,"y":98.1},{"s":"g","x":0.247,"y":97.7},{"s":"g","x":0.267,"y":97.1},{"s":"g","x":0.276,"y":93.9},{"s":"g","x":0.289,"y":93},{"s":"g","x":0.294,"y":91.4},{"s":"g","x":0.225,"y":87.9},{"s":"g","x":0.22,"y":81.6},{"s":"g","x":0.216,"y":75.2},{"s":"g","x":0.23,"y":75.2},{"s":"g","x":0.236,"y":78},{"s":"g","x":0.232,"y":76.5},{"s":"g","x":0.238,"y":65.7},{"s":"g","x":0.238,"y":57.5},{"s":"g","x":0.237,"y":55.3}
],
"fg":[
{"s":"m","x":0.105,"y":47.3},{"s":"m","x":0.123,"y":56.9},{"s":"m","x":0.151,"y":69.4},{"s":"m","x":0.182,"y":80.8},{"s":"m","x":0.22,"y":92.4},{"s":"m","x":0.259,"y":102.3},{"s":"m","x":0.3,"y":111.2},{"s":"m","x":0.35,"y":120.6},{"s":"m","x":0.4,"y":128.8},{"s":"m","x":0.474,"y":139.1},
{"s":"k","x":0.12,"y":85.6},{"s":"k","x":0.16,"y":92},{"s":"k","x":0.2,"y":97},{"s":"k","x":0.25,"y":102},{"s":"k","x":0.3,"y":106.1},{"s":"k","x":0.35,"y":109.6},{"s":"k","x":0.419,"y":113.6},
{"s":"b","x":0.161,"y":47.3},{"s":"b","x":0.2,"y":68.1},{"s":"b","x":0.25,"y":89.5},{"s":"b","x":0.3,"y":106.9},{"s":"b","x":0.35,"y":121.7},{"s":"b","x":0.381,"y":129.8},
{"s":"g","x":0.216,"y":91.1},{"s":"g","x":0.25,"y":95.8},{"s":"g","x":0.3,"y":101.8},{"s":"g","x":0.35,"y":106.7},{"s":"g","x":0.4,"y":111.1},{"s":"g","x":0.446,"y":114.6}
],
"leg":[
{"r":1,"s":"m","phase":"Phase I","depth":"2 cm"},
{"r":2,"s":"k","phase":"Phase II","depth":"2 cm"},
{"r":3,"s":"b","phase":"Phase I","depth":"10 cm"},
{"r":4,"s":"g","phase":"Phase II","depth":"10 cm"}
]
},
"concat":[
{"width":1152,"height":886,"title":{"text":"(a)"},"layer":[
{"data":{"name":"a"},"mark":{"type":"point","filled":false,"strokeWidth":2.2,"opacity":1},"encoding":{"x":{"field":"x","type":"quantitative","scale":{"domain":[0,0.5],"nice":false},"axis":{"orient":"bottom","values":[0,0.1,0.2,0.3,0.4,0.5],"format":".1~f","title":"Soil moisture (cm³/cm³)"}},"y":{"field":"y","type":"quantitative","scale":{"domain":[0,0.08],"nice":false},"axis":{"orient":"left","values":[0,0.02,0.04,0.06,0.08],"format":".2~f","title":"ATIs (K⁻¹)"}},"color":{"field":"s","type":"nominal"},"shape":{"field":"s","type":"nominal"},"size":{"field":"s","type":"nominal","scale":{"type":"ordinal","domain":["b","g","k","m"],"range":[380,290,400,540]}}}},
{"data":{"name":"fa"},"mark":{"type":"line","strokeWidth":2.5,"interpolate":"monotone"},"encoding":{"x":{"field":"x","type":"quantitative","axis":{"orient":"top","values":[0,0.1,0.2,0.3,0.4,0.5],"labels":false,"title":null}},"y":{"field":"y","type":"quantitative","axis":{"orient":"right","values":[0,0.02,0.04,0.06,0.08],"labels":false,"title":null}},"color":{"field":"s","type":"nominal"}}}
],"resolve":{"axis":{"x":"independent","y":"independent"}}},
{"width":1152,"height":886,"title":{"text":"(b)"},"layer":[
{"data":{"name":"b"},"mark":{"type":"point","filled":false,"strokeWidth":2.2,"opacity":1},"encoding":{"x":{"field":"x","type":"quantitative","scale":{"domain":[0,0.5],"nice":false},"axis":{"orient":"bottom","values":[0,0.1,0.2,0.3,0.4,0.5],"format":".1~f","title":"Soil moisture (cm³/cm³)"}},"y":{"field":"y","type":"quantitative","scale":{"domain":[0,0.08],"nice":false},"axis":{"orient":"left","values":[0,0.02,0.04,0.06,0.08],"format":".2~f","title":"ATIc (K⁻¹)"}},"color":{"field":"s","type":"nominal"},"shape":{"field":"s","type":"nominal"},"size":{"field":"s","type":"nominal","scale":{"type":"ordinal","domain":["b","g","k","m"],"range":[380,290,400,540]}}}},
{"data":{"name":"fb"},"mark":{"type":"line","strokeWidth":2.5,"interpolate":"monotone"},"encoding":{"x":{"field":"x","type":"quantitative","axis":{"orient":"top","values":[0,0.1,0.2,0.3,0.4,0.5],"labels":false,"title":null}},"y":{"field":"y","type":"quantitative","axis":{"orient":"right","values":[0,0.02,0.04,0.06,0.08],"labels":false,"title":null}},"color":{"field":"s","type":"nominal"}}}
],"resolve":{"axis":{"x":"independent","y":"independent"}}},
{"width":1152,"height":886,"title":{"text":"(c)"},"layer":[
{"data":{"name":"c"},"mark":{"type":"point","filled":false,"strokeWidth":2.2,"opacity":1},"encoding":{"x":{"field":"x","type":"quantitative","scale":{"domain":[0,0.5],"nice":false},"axis":{"orient":"bottom","values":[0,0.1,0.2,0.3,0.4,0.5],"format":".1~f","title":"Soil moisture (cm³/cm³)"}},"y":{"field":"y","type":"quantitative","scale":{"domain":[0,0.2],"nice":false},"axis":{"orient":"left","values":[0,0.05,0.1,0.15,0.2],"format":".2~f","title":"E (mm)"}},"color":{"field":"s","type":"nominal"},"shape":{"field":"s","type":"nominal"},"size":{"field":"s","type":"nominal","scale":{"type":"ordinal","domain":["b","g","k","m"],"range":[380,290,400,540]}}}},
{"data":{"name":"fc"},"mark":{"type":"line","strokeWidth":2.5,"interpolate":"monotone"},"encoding":{"x":{"field":"x","type":"quantitative","axis":{"orient":"top","values":[0,0.1,0.2,0.3,0.4,0.5],"labels":false,"title":null}},"y":{"field":"y","type":"quantitative","axis":{"orient":"right","values":[0,0.05,0.1,0.15,0.2],"labels":false,"title":null}},"color":{"field":"s","type":"nominal"}}}
],"resolve":{"axis":{"x":"independent","y":"independent"}}},
{"width":1152,"height":886,"title":{"text":"(d)"},"layer":[
{"data":{"name":"d"},"mark":{"type":"point","filled":false,"strokeWidth":2.2,"opacity":1},"encoding":{"x":{"field":"x","type":"quantitative","scale":{"domain":[0,0.5],"nice":false},"axis":{"orient":"bottom","values":[0,0.1,0.2,0.3,0.4,0.5],"format":".1~f","title":"Soil moisture (cm³/cm³)"}},"y":{"field":"y","type":"quantitative","scale":{"domain":[0,40],"nice":false},"axis":{"orient":"left","values":[0,10,20,30,40],"format":".2~f","title":"E/ETₐ (%)"}},"color":{"field":"s","type":"nominal"},"shape":{"field":"s","type":"nominal"},"size":{"field":"s","type":"nominal","scale":{"type":"ordinal","domain":["b","g","k","m"],"range":[380,290,400,540]}}}},
{"data":{"name":"fd"},"mark":{"type":"line","strokeWidth":2.5,"interpolate":"monotone"},"encoding":{"x":{"field":"x","type":"quantitative","axis":{"orient":"top","values":[0,0.1,0.2,0.3,0.4,0.5],"labels":false,"title":null}},"y":{"field":"y","type":"quantitative","axis":{"orient":"right","values":[0,10,20,30,40],"labels":false,"title":null}},"color":{"field":"s","type":"nominal"}}}
],"resolve":{"axis":{"x":"independent","y":"independent"}}},
{"width":1152,"height":886,"title":{"text":"(e)"},"layer":[
{"data":{"name":"e"},"mark":{"type":"point","filled":false,"strokeWidth":2.2,"opacity":1},"encoding":{"x":{"field":"x","type":"quantitative","scale":{"domain":[0,0.5],"nice":false},"axis":{"orient":"bottom","values":[0,0.1,0.2,0.3,0.4,0.5],"format":".1~f","title":"Soil moisture (cm³/cm³)"}},"y":{"field":"y","type":"quantitative","scale":{"domain":[0,50],"nice":false},"axis":{"orient":"left","values":[0,10,20,30,40,50],"format":".2~f","title":"E/ETₚ (%)"}},"color":{"field":"s","type":"nominal"},"shape":{"field":"s","type":"nominal"},"size":{"field":"s","type":"nominal","scale":{"type":"ordinal","domain":["b","g","k","m"],"range":[380,290,400,540]}}}},
{"data":{"name":"fe"},"mark":{"type":"line","strokeWidth":2.5,"interpolate":"monotone"},"encoding":{"x":{"field":"x","type":"quantitative","axis":{"orient":"top","values":[0,0.1,0.2,0.3,0.4,0.5],"labels":false,"title":null}},"y":{"field":"y","type":"quantitative","axis":{"orient":"right","values":[0,10,20,30,40,50],"labels":false,"title":null}},"color":{"field":"s","type":"nominal"}}}
],"resolve":{"axis":{"x":"independent","y":"independent"}}},
{"width":1152,"height":886,"title":{"text":"(f)"},"layer":[
{"data":{"name":"f"},"mark":{"type":"point","filled":false,"strokeWidth":2.2,"opacity":1},"encoding":{"x":{"field":"x","type":"quantitative","scale":{"domain":[0,0.5],"nice":false},"axis":{"orient":"bottom","values":[0,0.1,0.2,0.3,0.4,0.5],"format":".1~f","title":"Soil moisture (cm³/cm³)"}},"y":{"field":"y","type":"quantitative","scale":{"domain":[0,120],"nice":false},"axis":{"orient":"left","values":[0,20,40,60,80,100,120],"format":".2~f","title":"EF (%)"}},"color":{"field":"s","type":"nominal"},"shape":{"field":"s","type":"nominal"},"size":{"field":"s","type":"nominal","scale":{"type":"ordinal","domain":["b","g","k","m"],"range":[380,290,400,540]}}}},
{"data":{"name":"ff"},"mark":{"type":"line","strokeWidth":2.5,"interpolate":"monotone"},"encoding":{"x":{"field":"x","type":"quantitative","axis":{"orient":"top","values":[0,0.1,0.2,0.3,0.4,0.5],"labels":false,"title":null}},"y":{"field":"y","type":"quantitative","axis":{"orient":"right","values":[0,20,40,60,80,100,120],"labels":false,"title":null}},"color":{"field":"s","type":"nominal"}}}
],"resolve":{"axis":{"x":"independent","y":"independent"}}},
{"width":1152,"height":886,"title":{"text":"(g)"},"layer":[
{"data":{"name":"g"},"mark":{"type":"point","filled":false,"strokeWidth":2.2,"opacity":1},"encoding":{"x":{"field":"x","type":"quantitative","scale":{"domain":[0,0.5],"nice":false},"axis":{"orient":"bottom","values":[0,0.1,0.2,0.3,0.4,0.5],"format":".1~f","title":"Soil moisture (cm³/cm³)"}},"y":{"field":"y","type":"quantitative","scale":{"domain":[0,160],"nice":false},"axis":{"orient":"left","values":[0,20,40,60,80,100,120,140,160],"format":".2~f","title":"AEF (%)"}},"color":{"field":"s","type":"nominal"},"shape":{"field":"s","type":"nominal"},"size":{"field":"s","type":"nominal","scale":{"type":"ordinal","domain":["b","g","k","m"],"range":[380,290,400,540]}}}},
{"data":{"name":"fg"},"mark":{"type":"line","strokeWidth":2.5,"interpolate":"monotone"},"encoding":{"x":{"field":"x","type":"quantitative","axis":{"orient":"top","values":[0,0.1,0.2,0.3,0.4,0.5],"labels":false,"title":null}},"y":{"field":"y","type":"quantitative","axis":{"orient":"right","values":[0,20,40,60,80,100,120,140,160],"labels":false,"title":null}},"color":{"field":"s","type":"nominal"}}}
],"resolve":{"axis":{"x":"independent","y":"independent"}}},
{"width":1057,"height":682,"data":{"name":"leg"},"view":{"stroke":null},
"encoding":{"y":{"field":"r","type":"ordinal","scale":{"type":"band","paddingInner":0,"paddingOuter":0.795,"align":1},"axis":null}},
"layer":[
{"mark":{"type":"rect","fill":null,"stroke":"black","strokeWidth":3.5},"encoding":{"x":{"datum":0,"type":"quantitative","scale":{"domain":[-0.0383,1],"nice":false,"zero":false},"axis":null},"x2":{"datum":0.19}}},
{"mark":{"type":"rect","fill":null,"stroke":"black","strokeWidth":3.5},"encoding":{"x":{"datum":0.19,"type":"quantitative","axis":null},"x2":{"datum":0.666}}},
{"mark":{"type":"rect","fill":null,"stroke":"black","strokeWidth":3.5},"encoding":{"x":{"datum":0.666,"type":"quantitative","axis":null},"x2":{"datum":1}}},
{"mark":{"type":"point","filled":false,"strokeWidth":4,"opacity":1},"encoding":{"x":{"datum":0.095,"type":"quantitative","axis":null},"color":{"field":"s","type":"nominal"},"shape":{"field":"s","type":"nominal"},"size":{"field":"s","type":"nominal","scale":{"type":"ordinal","domain":["b","g","k","m"],"range":[1500,1100,1500,2100]}}}},
{"mark":{"type":"text","fontSize":72,"font":"Liberation Serif","color":"black"},"encoding":{"x":{"datum":0.428,"type":"quantitative","axis":null},"text":{"field":"phase"}}},
{"mark":{"type":"text","fontSize":72,"font":"Liberation Serif","color":"black"},"encoding":{"x":{"datum":0.833,"type":"quantitative","axis":null},"text":{"field":"depth"}}}
]}
],
"columns":3,
"spacing":{"row":181,"column":235},
"bounds":"flush",
"resolve":{"scale":{"size":"independent"}}
}
